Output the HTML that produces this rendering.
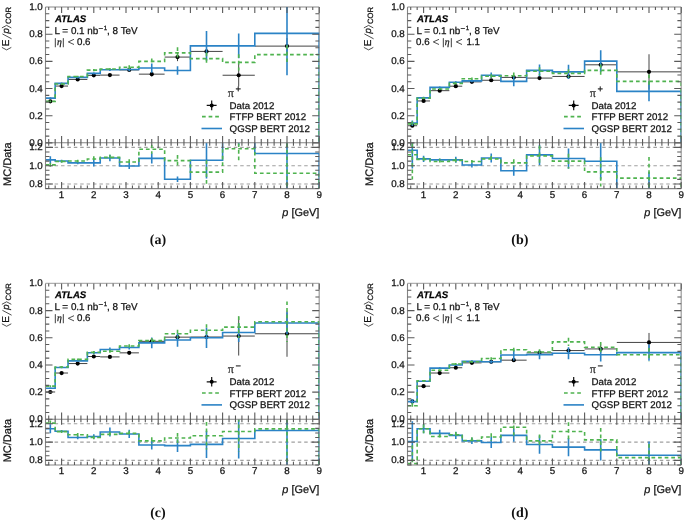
<!DOCTYPE html>
<html><head><meta charset="utf-8"><title>ATLAS E/p</title><style>
html,body{margin:0;padding:0;}
body{width:685px;height:520px;overflow:hidden;}
svg{display:block;will-change:transform;}
text{font-family:"Liberation Sans",sans-serif;fill:#111;stroke:#111;stroke-width:0.25px;text-rendering:geometricPrecision;}
.tl{font-size:9.8px;}
.lg{font-size:9.7px;}
.ti{font-size:10.9px;}
.mc{font-size:11px;}
.ep{font-size:9.6px;}
.at{font-size:9.6px;font-weight:bold;font-style:italic;fill:#000;}
.cap{font-family:"Liberation Serif",serif;font-weight:bold;font-size:14px;fill:#111;stroke:none;}
</style></head>
<body><svg width="685" height="520" viewBox="0 0 685 520">

<g transform="translate(0,0)">
<clipPath id="cta"><rect x="45.5" y="7" width="273.7" height="135.8"/></clipPath>
<clipPath id="cra"><rect x="45.5" y="142.8" width="273.7" height="45.8"/></clipPath>
<path d="M45.5,7 H319.2" fill="none" stroke="#b0b0b0" stroke-width="1.3"/>
<path d="M319.2,7 V188.6" fill="none" stroke="#9a9a9a" stroke-width="1.2"/>
<line x1="45.5" y1="184" x2="319.2" y2="184" stroke="#a0a0a0" stroke-width="1.1" stroke-dasharray="3.5,2.9" stroke-dashoffset="3.7"/>
<line x1="45.5" y1="165.7" x2="319.2" y2="165.7" stroke="#a0a0a0" stroke-width="1.1" stroke-dasharray="3.5,2.9" stroke-dashoffset="3.7"/>
<line x1="45.5" y1="147.4" x2="319.2" y2="147.4" stroke="#a0a0a0" stroke-width="1.1" stroke-dasharray="3.5,2.9" stroke-dashoffset="3.7"/>
<g clip-path="url(#cta)">
<line x1="45.5" y1="101.37" x2="55.16" y2="101.37" stroke="#444" stroke-width="1"/>
<line x1="50.33" y1="100.83" x2="50.33" y2="101.91" stroke="#444" stroke-width="1"/>
<line x1="55.16" y1="86.07" x2="68.04" y2="86.07" stroke="#444" stroke-width="1"/>
<line x1="61.6" y1="85.53" x2="61.6" y2="86.61" stroke="#444" stroke-width="1"/>
<line x1="68.04" y1="79.43" x2="87.36" y2="79.43" stroke="#444" stroke-width="1"/>
<line x1="77.7" y1="78.89" x2="77.7" y2="79.97" stroke="#444" stroke-width="1"/>
<line x1="87.36" y1="75.37" x2="100.24" y2="75.37" stroke="#444" stroke-width="1"/>
<line x1="93.8" y1="74.69" x2="93.8" y2="76.05" stroke="#444" stroke-width="1"/>
<line x1="100.24" y1="75.1" x2="119.56" y2="75.1" stroke="#444" stroke-width="1"/>
<line x1="109.9" y1="74.29" x2="109.9" y2="75.91" stroke="#444" stroke-width="1"/>
<line x1="119.56" y1="69.95" x2="138.88" y2="69.95" stroke="#444" stroke-width="1"/>
<line x1="129.22" y1="68.6" x2="129.22" y2="71.31" stroke="#444" stroke-width="1"/>
<line x1="138.88" y1="74.15" x2="164.64" y2="74.15" stroke="#444" stroke-width="1"/>
<line x1="151.76" y1="71.72" x2="151.76" y2="76.59" stroke="#444" stroke-width="1"/>
<line x1="164.64" y1="57.09" x2="190.4" y2="57.09" stroke="#444" stroke-width="1"/>
<line x1="177.52" y1="53.03" x2="177.52" y2="61.15" stroke="#444" stroke-width="1"/>
<line x1="190.4" y1="51.41" x2="222.6" y2="51.41" stroke="#444" stroke-width="1"/>
<line x1="206.5" y1="47.34" x2="206.5" y2="55.47" stroke="#444" stroke-width="1"/>
<line x1="222.6" y1="75.24" x2="254.8" y2="75.24" stroke="#444" stroke-width="1"/>
<line x1="238.7" y1="64" x2="238.7" y2="86.47" stroke="#444" stroke-width="1"/>
<line x1="254.8" y1="46.12" x2="319.2" y2="46.12" stroke="#444" stroke-width="1"/>
<line x1="287" y1="38" x2="287" y2="54.25" stroke="#444" stroke-width="1"/>
<circle cx="50.33" cy="101.37" r="2.1" fill="#000"/>
<circle cx="61.6" cy="86.07" r="2.1" fill="#000"/>
<circle cx="77.7" cy="79.43" r="2.1" fill="#000"/>
<circle cx="93.8" cy="75.37" r="2.1" fill="#000"/>
<circle cx="109.9" cy="75.1" r="2.1" fill="#000"/>
<circle cx="129.22" cy="69.95" r="2.1" fill="#000"/>
<circle cx="151.76" cy="74.15" r="2.1" fill="#000"/>
<circle cx="177.52" cy="57.09" r="2.1" fill="#000"/>
<circle cx="206.5" cy="51.41" r="2.1" fill="#000"/>
<circle cx="238.7" cy="75.24" r="2.1" fill="#000"/>
<circle cx="287" cy="46.12" r="2.1" fill="#000"/>
<path d="M45.5,98.12 L55.16,98.12 L55.16,83.36 L68.04,83.36 L68.04,77.4 L87.36,77.4 L87.36,73.34 L100.24,73.34 L100.24,69.82 L119.56,69.82 L119.56,69.55 L138.88,69.55 L138.88,68.06 L164.64,68.06 L164.64,70.5 L190.4,70.5 L190.4,45.85 L222.6,45.85 L222.6,45.85 L254.8,45.85 L254.8,33.4 L319.2,33.4 L319.2,142.8" fill="none" stroke="#2b83c6" stroke-width="1.6"/>
<line x1="50.33" y1="97.31" x2="50.33" y2="98.93" stroke="#2b83c6" stroke-width="1.6"/>
<line x1="61.6" y1="82.55" x2="61.6" y2="84.17" stroke="#2b83c6" stroke-width="1.6"/>
<line x1="77.7" y1="76.59" x2="77.7" y2="78.21" stroke="#2b83c6" stroke-width="1.6"/>
<line x1="93.8" y1="72.39" x2="93.8" y2="74.29" stroke="#2b83c6" stroke-width="1.6"/>
<line x1="109.9" y1="68.74" x2="109.9" y2="70.9" stroke="#2b83c6" stroke-width="1.6"/>
<line x1="129.22" y1="67.92" x2="129.22" y2="71.17" stroke="#2b83c6" stroke-width="1.6"/>
<line x1="151.76" y1="63.46" x2="151.76" y2="72.66" stroke="#2b83c6" stroke-width="1.6"/>
<line x1="177.52" y1="66.16" x2="177.52" y2="74.83" stroke="#2b83c6" stroke-width="1.6"/>
<line x1="206.5" y1="30.96" x2="206.5" y2="60.75" stroke="#2b83c6" stroke-width="1.6"/>
<line x1="238.7" y1="33.4" x2="238.7" y2="58.31" stroke="#2b83c6" stroke-width="1.6"/>
<line x1="287" y1="-8.58" x2="287" y2="75.37" stroke="#2b83c6" stroke-width="1.6"/>
<path d="M45.5,101.37 L55.16,101.37 L55.16,84.04 L68.04,84.04 L68.04,76.45 L87.36,76.45 L87.36,70.09 L100.24,70.09 L100.24,69.01 L119.56,69.01 L119.56,67.25 L138.88,67.25 L138.88,61.42 L164.64,61.42 L164.64,52.89 L190.4,52.89 L190.4,58.58 L222.6,58.58 L222.6,62.37 L254.8,62.37 L254.8,54.65 L319.2,54.65 L319.2,142.8" fill="none" stroke="#4fb34f" stroke-width="1.6" stroke-dasharray="3.7,2.9"/>
<line x1="50.33" y1="100.56" x2="50.33" y2="102.18" stroke="#4fb34f" stroke-width="1.6" stroke-dasharray="3.7,2.9"/>
<line x1="61.6" y1="83.22" x2="61.6" y2="84.85" stroke="#4fb34f" stroke-width="1.6" stroke-dasharray="3.7,2.9"/>
<line x1="77.7" y1="75.64" x2="77.7" y2="77.27" stroke="#4fb34f" stroke-width="1.6" stroke-dasharray="3.7,2.9"/>
<line x1="93.8" y1="69.01" x2="93.8" y2="71.17" stroke="#4fb34f" stroke-width="1.6" stroke-dasharray="3.7,2.9"/>
<line x1="109.9" y1="67.92" x2="109.9" y2="70.09" stroke="#4fb34f" stroke-width="1.6" stroke-dasharray="3.7,2.9"/>
<line x1="129.22" y1="65.22" x2="129.22" y2="69.28" stroke="#4fb34f" stroke-width="1.6" stroke-dasharray="3.7,2.9"/>
<line x1="151.76" y1="58.45" x2="151.76" y2="64.4" stroke="#4fb34f" stroke-width="1.6" stroke-dasharray="3.7,2.9"/>
<line x1="177.52" y1="47.21" x2="177.52" y2="58.58" stroke="#4fb34f" stroke-width="1.6" stroke-dasharray="3.7,2.9"/>
<line x1="206.5" y1="52.49" x2="206.5" y2="64.67" stroke="#4fb34f" stroke-width="1.6" stroke-dasharray="3.7,2.9"/>
<line x1="238.7" y1="54.25" x2="238.7" y2="70.5" stroke="#4fb34f" stroke-width="1.6" stroke-dasharray="3.7,2.9"/>
<line x1="287" y1="45.18" x2="287" y2="64.13" stroke="#4fb34f" stroke-width="1.6" stroke-dasharray="3.7,2.9"/>
</g>
<g clip-path="url(#cra)">
<path d="M45.5,159.84 L55.16,159.84 L55.16,161.03 L68.04,161.03 L68.04,162.86 L87.36,162.86 L87.36,162.86 L100.24,162.86 L100.24,158.01 L119.56,158.01 L119.56,165.97 L138.88,165.97 L138.88,158.38 L164.64,158.38 L164.64,179.24 L190.4,179.24 L190.4,160.3 L222.6,160.3 L222.6,140.8 L254.8,140.8 L254.8,153.53 L319.2,153.53 L319.2,190.6" fill="none" stroke="#2b83c6" stroke-width="1.6"/>
<line x1="50.33" y1="156.18" x2="50.33" y2="163.5" stroke="#2b83c6" stroke-width="1.6"/>
<line x1="61.6" y1="159.66" x2="61.6" y2="162.41" stroke="#2b83c6" stroke-width="1.6"/>
<line x1="77.7" y1="161.49" x2="77.7" y2="164.24" stroke="#2b83c6" stroke-width="1.6"/>
<line x1="93.8" y1="159.2" x2="93.8" y2="166.52" stroke="#2b83c6" stroke-width="1.6"/>
<line x1="109.9" y1="154.81" x2="109.9" y2="161.22" stroke="#2b83c6" stroke-width="1.6"/>
<line x1="129.22" y1="162.95" x2="129.22" y2="168.99" stroke="#2b83c6" stroke-width="1.6"/>
<line x1="151.76" y1="153.26" x2="151.76" y2="163.5" stroke="#2b83c6" stroke-width="1.6"/>
<line x1="177.52" y1="176.5" x2="177.52" y2="181.99" stroke="#2b83c6" stroke-width="1.6"/>
<line x1="206.5" y1="142" x2="206.5" y2="178.6" stroke="#2b83c6" stroke-width="1.6"/>
<line x1="238.7" y1="108.97" x2="238.7" y2="145.57" stroke="#2b83c6" stroke-width="1.6"/>
<line x1="287" y1="112.36" x2="287" y2="194.71" stroke="#2b83c6" stroke-width="1.6"/>
<path d="M45.5,164.88 L55.16,164.88 L55.16,161.49 L68.04,161.49 L68.04,161.03 L87.36,161.03 L87.36,159.02 L100.24,159.02 L100.24,157.37 L119.56,157.37 L119.56,162.04 L138.88,162.04 L138.88,149.23 L164.64,149.23 L164.64,160.58 L190.4,160.58 L190.4,172.1 L222.6,172.1 L222.6,148.68 L254.8,148.68 L254.8,173.2 L319.2,173.2 L319.2,190.6" fill="none" stroke="#4fb34f" stroke-width="1.6" stroke-dasharray="3.7,2.9"/>
<line x1="50.33" y1="163.05" x2="50.33" y2="166.71" stroke="#4fb34f" stroke-width="1.6" stroke-dasharray="3.7,2.9"/>
<line x1="61.6" y1="160.12" x2="61.6" y2="162.86" stroke="#4fb34f" stroke-width="1.6" stroke-dasharray="3.7,2.9"/>
<line x1="77.7" y1="159.66" x2="77.7" y2="162.41" stroke="#4fb34f" stroke-width="1.6" stroke-dasharray="3.7,2.9"/>
<line x1="93.8" y1="156.28" x2="93.8" y2="161.77" stroke="#4fb34f" stroke-width="1.6" stroke-dasharray="3.7,2.9"/>
<line x1="109.9" y1="154.63" x2="109.9" y2="160.12" stroke="#4fb34f" stroke-width="1.6" stroke-dasharray="3.7,2.9"/>
<line x1="129.22" y1="159.29" x2="129.22" y2="164.78" stroke="#4fb34f" stroke-width="1.6" stroke-dasharray="3.7,2.9"/>
<line x1="151.76" y1="144.66" x2="151.76" y2="153.81" stroke="#4fb34f" stroke-width="1.6" stroke-dasharray="3.7,2.9"/>
<line x1="177.52" y1="155.09" x2="177.52" y2="166.07" stroke="#4fb34f" stroke-width="1.6" stroke-dasharray="3.7,2.9"/>
<line x1="206.5" y1="160.21" x2="206.5" y2="184" stroke="#4fb34f" stroke-width="1.6" stroke-dasharray="3.7,2.9"/>
<line x1="238.7" y1="136.79" x2="238.7" y2="160.58" stroke="#4fb34f" stroke-width="1.6" stroke-dasharray="3.7,2.9"/>
<line x1="287" y1="136.6" x2="287" y2="209.8" stroke="#4fb34f" stroke-width="1.6" stroke-dasharray="3.7,2.9"/>
</g>
<path d="M45.5,7 V188.6 H319.2 M45.5,142.8 H319.2" fill="none" stroke="#858585" stroke-width="1.1"/>
<path d="M48.72,7 v3 M48.72,142.8 v-3.7 M48.72,142.8 v3 M48.72,188.6 v-3.2 M55.16,7 v3 M55.16,142.8 v-3.7 M55.16,142.8 v3 M55.16,188.6 v-3.2 M61.6,7 v6 M61.6,142.8 v-6.7 M61.6,142.8 v5.5 M61.6,188.6 v-6.6 M68.04,7 v3 M68.04,142.8 v-3.7 M68.04,142.8 v3 M68.04,188.6 v-3.2 M74.48,7 v3 M74.48,142.8 v-3.7 M74.48,142.8 v3 M74.48,188.6 v-3.2 M80.92,7 v3 M80.92,142.8 v-3.7 M80.92,142.8 v3 M80.92,188.6 v-3.2 M87.36,7 v3 M87.36,142.8 v-3.7 M87.36,142.8 v3 M87.36,188.6 v-3.2 M93.8,7 v6 M93.8,142.8 v-6.7 M93.8,142.8 v5.5 M93.8,188.6 v-6.6 M100.24,7 v3 M100.24,142.8 v-3.7 M100.24,142.8 v3 M100.24,188.6 v-3.2 M106.68,7 v3 M106.68,142.8 v-3.7 M106.68,142.8 v3 M106.68,188.6 v-3.2 M113.12,7 v3 M113.12,142.8 v-3.7 M113.12,142.8 v3 M113.12,188.6 v-3.2 M119.56,7 v3 M119.56,142.8 v-3.7 M119.56,142.8 v3 M119.56,188.6 v-3.2 M126,7 v6 M126,142.8 v-6.7 M126,142.8 v5.5 M126,188.6 v-6.6 M132.44,7 v3 M132.44,142.8 v-3.7 M132.44,142.8 v3 M132.44,188.6 v-3.2 M138.88,7 v3 M138.88,142.8 v-3.7 M138.88,142.8 v3 M138.88,188.6 v-3.2 M145.32,7 v3 M145.32,142.8 v-3.7 M145.32,142.8 v3 M145.32,188.6 v-3.2 M151.76,7 v3 M151.76,142.8 v-3.7 M151.76,142.8 v3 M151.76,188.6 v-3.2 M158.2,7 v6 M158.2,142.8 v-6.7 M158.2,142.8 v5.5 M158.2,188.6 v-6.6 M164.64,7 v3 M164.64,142.8 v-3.7 M164.64,142.8 v3 M164.64,188.6 v-3.2 M171.08,7 v3 M171.08,142.8 v-3.7 M171.08,142.8 v3 M171.08,188.6 v-3.2 M177.52,7 v3 M177.52,142.8 v-3.7 M177.52,142.8 v3 M177.52,188.6 v-3.2 M183.96,7 v3 M183.96,142.8 v-3.7 M183.96,142.8 v3 M183.96,188.6 v-3.2 M190.4,7 v6 M190.4,142.8 v-6.7 M190.4,142.8 v5.5 M190.4,188.6 v-6.6 M196.84,7 v3 M196.84,142.8 v-3.7 M196.84,142.8 v3 M196.84,188.6 v-3.2 M203.28,7 v3 M203.28,142.8 v-3.7 M203.28,142.8 v3 M203.28,188.6 v-3.2 M209.72,7 v3 M209.72,142.8 v-3.7 M209.72,142.8 v3 M209.72,188.6 v-3.2 M216.16,7 v3 M216.16,142.8 v-3.7 M216.16,142.8 v3 M216.16,188.6 v-3.2 M222.6,7 v6 M222.6,142.8 v-6.7 M222.6,142.8 v5.5 M222.6,188.6 v-6.6 M229.04,7 v3 M229.04,142.8 v-3.7 M229.04,142.8 v3 M229.04,188.6 v-3.2 M235.48,7 v3 M235.48,142.8 v-3.7 M235.48,142.8 v3 M235.48,188.6 v-3.2 M241.92,7 v3 M241.92,142.8 v-3.7 M241.92,142.8 v3 M241.92,188.6 v-3.2 M248.36,7 v3 M248.36,142.8 v-3.7 M248.36,142.8 v3 M248.36,188.6 v-3.2 M254.8,7 v6 M254.8,142.8 v-6.7 M254.8,142.8 v5.5 M254.8,188.6 v-6.6 M261.24,7 v3 M261.24,142.8 v-3.7 M261.24,142.8 v3 M261.24,188.6 v-3.2 M267.68,7 v3 M267.68,142.8 v-3.7 M267.68,142.8 v3 M267.68,188.6 v-3.2 M274.12,7 v3 M274.12,142.8 v-3.7 M274.12,142.8 v3 M274.12,188.6 v-3.2 M280.56,7 v3 M280.56,142.8 v-3.7 M280.56,142.8 v3 M280.56,188.6 v-3.2 M287,7 v6 M287,142.8 v-6.7 M287,142.8 v5.5 M287,188.6 v-6.6 M293.44,7 v3 M293.44,142.8 v-3.7 M293.44,142.8 v3 M293.44,188.6 v-3.2 M299.88,7 v3 M299.88,142.8 v-3.7 M299.88,142.8 v3 M299.88,188.6 v-3.2 M306.32,7 v3 M306.32,142.8 v-3.7 M306.32,142.8 v3 M306.32,188.6 v-3.2 M312.76,7 v3 M312.76,142.8 v-3.7 M312.76,142.8 v3 M312.76,188.6 v-3.2 M319.2,7 v6 M319.2,142.8 v-6.7 M319.2,142.8 v5.5 M319.2,188.6 v-6.6 M45.5,142.9 h7 M319.2,142.9 h-7 M45.5,136.11 h3.8 M319.2,136.11 h-3.8 M45.5,129.31 h3.8 M319.2,129.31 h-3.8 M45.5,122.52 h3.8 M319.2,122.52 h-3.8 M45.5,115.72 h7 M319.2,115.72 h-7 M45.5,108.93 h3.8 M319.2,108.93 h-3.8 M45.5,102.13 h3.8 M319.2,102.13 h-3.8 M45.5,95.34 h3.8 M319.2,95.34 h-3.8 M45.5,88.54 h7 M319.2,88.54 h-7 M45.5,81.75 h3.8 M319.2,81.75 h-3.8 M45.5,74.95 h3.8 M319.2,74.95 h-3.8 M45.5,68.16 h3.8 M319.2,68.16 h-3.8 M45.5,61.36 h7 M319.2,61.36 h-7 M45.5,54.56 h3.8 M319.2,54.56 h-3.8 M45.5,47.77 h3.8 M319.2,47.77 h-3.8 M45.5,40.97 h3.8 M319.2,40.97 h-3.8 M45.5,34.18 h7 M319.2,34.18 h-7 M45.5,27.38 h3.8 M319.2,27.38 h-3.8 M45.5,20.59 h3.8 M319.2,20.59 h-3.8 M45.5,13.79 h3.8 M319.2,13.79 h-3.8 M45.5,188.57 h4 M319.2,188.57 h-4 M45.5,184 h7.5 M319.2,184 h-7.5 M45.5,179.42 h4 M319.2,179.42 h-4 M45.5,174.85 h4 M319.2,174.85 h-4 M45.5,170.28 h4 M319.2,170.28 h-4 M45.5,165.7 h7.5 M319.2,165.7 h-7.5 M45.5,161.12 h4 M319.2,161.12 h-4 M45.5,156.55 h4 M319.2,156.55 h-4 M45.5,151.97 h4 M319.2,151.97 h-4 M45.5,147.4 h7.5 M319.2,147.4 h-7.5 M45.5,142.82 h4 M319.2,142.82 h-4" fill="none" stroke="#5a5a5a" stroke-width="1.1"/>
<text class="tl" x="42.8" y="145.9" text-anchor="end">0.0</text>
<text class="tl" x="42.8" y="118.72" text-anchor="end">0.2</text>
<text class="tl" x="42.8" y="91.54" text-anchor="end">0.4</text>
<text class="tl" x="42.8" y="64.36" text-anchor="end">0.6</text>
<text class="tl" x="42.8" y="37.18" text-anchor="end">0.8</text>
<text class="tl" x="42.8" y="10" text-anchor="end">1.0</text>
<text class="tl" x="42.8" y="186.9" text-anchor="end">0.8</text>
<text class="tl" x="42.8" y="168.6" text-anchor="end">1.0</text>
<text class="tl" x="42.8" y="150.3" text-anchor="end">1.2</text>
<text class="tl" x="61.6" y="197.9" text-anchor="middle">1</text>
<text class="tl" x="93.8" y="197.9" text-anchor="middle">2</text>
<text class="tl" x="126" y="197.9" text-anchor="middle">3</text>
<text class="tl" x="158.2" y="197.9" text-anchor="middle">4</text>
<text class="tl" x="190.4" y="197.9" text-anchor="middle">5</text>
<text class="tl" x="222.6" y="197.9" text-anchor="middle">6</text>
<text class="tl" x="254.8" y="197.9" text-anchor="middle">7</text>
<text class="tl" x="287" y="197.9" text-anchor="middle">8</text>
<text class="tl" x="319.2" y="197.9" text-anchor="middle">9</text>
<text class="ti" x="319.3" y="216.2" text-anchor="end"><tspan font-style="italic">p</tspan> [GeV]</text>
<text class="mc" transform="translate(11.4,185.9) rotate(-90)">MC/Data</text>
<path d="M1.9,47.4 L6.6,49.9 L11.3,47.4 M1.9,27.9 L6.6,25.4 L11.3,27.9 M11.6,38.8 L2.4,33.9" fill="none" stroke="#222" stroke-width="0.8"/>
<text class="ep" style="font-size:10px" transform="translate(8.6,46.3) rotate(-90)">E</text>
<text class="ep" font-style="italic" transform="translate(8.5,33.4) rotate(-90)">p</text>
<text class="ep" style="font-size:7.7px" transform="translate(11.0,24.0) rotate(-90)">COR</text>
<text class="at" x="55" y="21.8">ATLAS</text>
<text class="lg" y="33.5" style="font-size:9.9px"><tspan x="54.5">L = 0.1 nb</tspan><tspan x="98.6" y="30.95" font-size="8">−</tspan><tspan x="103.7" y="29.8" font-size="6.2">1</tspan><tspan x="107.1" y="33.5">, 8 TeV</tspan></text>
<text class="lg" y="44.6"><tspan x="54.33" font-family="Liberation Serif">|</tspan><tspan x="56.9" font-family="Liberation Serif" font-style="italic">η</tspan><tspan x="62.23" font-family="Liberation Serif">|</tspan><tspan x="77.0">0.6</tspan></text>
<path d="M74,39.3 L68.3,41.9 L74,44.5" fill="none" stroke="#222" stroke-width="0.8"/>
<text class="lg" y="96.9"><tspan x="227.8" font-family="Liberation Serif" font-size="12.2" stroke-width="0.12">π</tspan><tspan x="235.6" y="92.2" font-size="9.4">+</tspan></text>
<path d="M206.7,105.4 H216.6 M211.7,100.6 V110.2" stroke="#111" stroke-width="1.2"/>
<circle cx="211.7" cy="105.4" r="2" fill="#000"/>
<line x1="202" y1="116.6" x2="221.5" y2="116.6" stroke="#4fb34f" stroke-width="1.6" stroke-dasharray="3.7,2.9"/>
<line x1="201.5" y1="128.5" x2="222" y2="128.5" stroke="#2b83c6" stroke-width="1.6"/>
<text class="lg" x="229.6" y="108.7">Data 2012</text>
<text class="lg" x="229.6" y="120.3">FTFP BERT 2012</text>
<text class="lg" x="229.6" y="131.9">QGSP BERT 2012</text>
<text class="cap" x="157.9" y="243.9" text-anchor="middle">(a)</text>
</g>
<g transform="translate(362,0)">
<clipPath id="ctb"><rect x="45.5" y="7" width="273.7" height="135.8"/></clipPath>
<clipPath id="crb"><rect x="45.5" y="142.8" width="273.7" height="45.8"/></clipPath>
<path d="M45.5,7 H319.2" fill="none" stroke="#b0b0b0" stroke-width="1.3"/>
<path d="M319.2,7 V188.6" fill="none" stroke="#9a9a9a" stroke-width="1.2"/>
<line x1="45.5" y1="184" x2="319.2" y2="184" stroke="#a0a0a0" stroke-width="1.1" stroke-dasharray="3.5,2.9" stroke-dashoffset="3.7"/>
<line x1="45.5" y1="165.7" x2="319.2" y2="165.7" stroke="#a0a0a0" stroke-width="1.1" stroke-dasharray="3.5,2.9" stroke-dashoffset="3.7"/>
<line x1="45.5" y1="147.4" x2="319.2" y2="147.4" stroke="#a0a0a0" stroke-width="1.1" stroke-dasharray="3.5,2.9" stroke-dashoffset="3.7"/>
<g clip-path="url(#ctb)">
<line x1="45.5" y1="125.74" x2="55.16" y2="125.74" stroke="#444" stroke-width="1"/>
<line x1="50.33" y1="125.2" x2="50.33" y2="126.28" stroke="#444" stroke-width="1"/>
<line x1="55.16" y1="100.96" x2="68.04" y2="100.96" stroke="#444" stroke-width="1"/>
<line x1="61.6" y1="100.42" x2="61.6" y2="101.5" stroke="#444" stroke-width="1"/>
<line x1="68.04" y1="90.67" x2="87.36" y2="90.67" stroke="#444" stroke-width="1"/>
<line x1="77.7" y1="90.13" x2="77.7" y2="91.21" stroke="#444" stroke-width="1"/>
<line x1="87.36" y1="86.2" x2="100.24" y2="86.2" stroke="#444" stroke-width="1"/>
<line x1="93.8" y1="85.53" x2="93.8" y2="86.88" stroke="#444" stroke-width="1"/>
<line x1="100.24" y1="81.87" x2="119.56" y2="81.87" stroke="#444" stroke-width="1"/>
<line x1="109.9" y1="81.06" x2="109.9" y2="82.68" stroke="#444" stroke-width="1"/>
<line x1="119.56" y1="80.25" x2="138.88" y2="80.25" stroke="#444" stroke-width="1"/>
<line x1="129.22" y1="79.16" x2="129.22" y2="81.33" stroke="#444" stroke-width="1"/>
<line x1="138.88" y1="77.4" x2="164.64" y2="77.4" stroke="#444" stroke-width="1"/>
<line x1="151.76" y1="76.05" x2="151.76" y2="78.76" stroke="#444" stroke-width="1"/>
<line x1="164.64" y1="78.08" x2="190.4" y2="78.08" stroke="#444" stroke-width="1"/>
<line x1="177.52" y1="76.45" x2="177.52" y2="79.7" stroke="#444" stroke-width="1"/>
<line x1="190.4" y1="76.45" x2="222.6" y2="76.45" stroke="#444" stroke-width="1"/>
<line x1="206.5" y1="74.42" x2="206.5" y2="78.49" stroke="#444" stroke-width="1"/>
<line x1="222.6" y1="64.81" x2="254.8" y2="64.81" stroke="#444" stroke-width="1"/>
<line x1="238.7" y1="60.75" x2="238.7" y2="68.87" stroke="#444" stroke-width="1"/>
<line x1="254.8" y1="71.85" x2="319.2" y2="71.85" stroke="#444" stroke-width="1"/>
<line x1="287" y1="54.25" x2="287" y2="89.45" stroke="#444" stroke-width="1"/>
<circle cx="50.33" cy="125.74" r="2.1" fill="#000"/>
<circle cx="61.6" cy="100.96" r="2.1" fill="#000"/>
<circle cx="77.7" cy="90.67" r="2.1" fill="#000"/>
<circle cx="93.8" cy="86.2" r="2.1" fill="#000"/>
<circle cx="109.9" cy="81.87" r="2.1" fill="#000"/>
<circle cx="129.22" cy="80.25" r="2.1" fill="#000"/>
<circle cx="151.76" cy="77.4" r="2.1" fill="#000"/>
<circle cx="177.52" cy="78.08" r="2.1" fill="#000"/>
<circle cx="206.5" cy="76.45" r="2.1" fill="#000"/>
<circle cx="238.7" cy="64.81" r="2.1" fill="#000"/>
<circle cx="287" cy="71.85" r="2.1" fill="#000"/>
<path d="M45.5,123.17 L55.16,123.17 L55.16,97.85 L68.04,97.85 L68.04,87.42 L87.36,87.42 L87.36,82.28 L100.24,82.28 L100.24,80.92 L119.56,80.92 L119.56,75.24 L138.88,75.24 L138.88,81.33 L164.64,81.33 L164.64,70.36 L190.4,70.36 L190.4,71.85 L222.6,71.85 L222.6,61.15 L254.8,61.15 L254.8,91.35 L319.2,91.35 L319.2,142.8" fill="none" stroke="#2b83c6" stroke-width="1.6"/>
<line x1="50.33" y1="120.46" x2="50.33" y2="125.88" stroke="#2b83c6" stroke-width="1.6"/>
<line x1="61.6" y1="96.76" x2="61.6" y2="98.93" stroke="#2b83c6" stroke-width="1.6"/>
<line x1="77.7" y1="86.61" x2="77.7" y2="88.23" stroke="#2b83c6" stroke-width="1.6"/>
<line x1="93.8" y1="81.33" x2="93.8" y2="83.22" stroke="#2b83c6" stroke-width="1.6"/>
<line x1="109.9" y1="79.57" x2="109.9" y2="82.28" stroke="#2b83c6" stroke-width="1.6"/>
<line x1="129.22" y1="72.53" x2="129.22" y2="77.94" stroke="#2b83c6" stroke-width="1.6"/>
<line x1="151.76" y1="76.32" x2="151.76" y2="86.34" stroke="#2b83c6" stroke-width="1.6"/>
<line x1="177.52" y1="64.4" x2="177.52" y2="76.32" stroke="#2b83c6" stroke-width="1.6"/>
<line x1="206.5" y1="64.67" x2="206.5" y2="79.03" stroke="#2b83c6" stroke-width="1.6"/>
<line x1="238.7" y1="50.32" x2="238.7" y2="71.99" stroke="#2b83c6" stroke-width="1.6"/>
<line x1="287" y1="81.33" x2="287" y2="101.37" stroke="#2b83c6" stroke-width="1.6"/>
<path d="M45.5,123.84 L55.16,123.84 L55.16,98.25 L68.04,98.25 L68.04,89.05 L87.36,89.05 L87.36,83.36 L100.24,83.36 L100.24,78.76 L119.56,78.76 L119.56,76.18 L138.88,76.18 L138.88,75.78 L164.64,75.78 L164.64,71.31 L190.4,71.31 L190.4,73.34 L222.6,73.34 L222.6,70.36 L254.8,70.36 L254.8,81.33 L319.2,81.33 L319.2,142.8" fill="none" stroke="#4fb34f" stroke-width="1.6" stroke-dasharray="3.7,2.9"/>
<line x1="50.33" y1="121.14" x2="50.33" y2="126.55" stroke="#4fb34f" stroke-width="1.6" stroke-dasharray="3.7,2.9"/>
<line x1="61.6" y1="97.17" x2="61.6" y2="99.34" stroke="#4fb34f" stroke-width="1.6" stroke-dasharray="3.7,2.9"/>
<line x1="77.7" y1="88.23" x2="77.7" y2="89.86" stroke="#4fb34f" stroke-width="1.6" stroke-dasharray="3.7,2.9"/>
<line x1="93.8" y1="82.41" x2="93.8" y2="84.31" stroke="#4fb34f" stroke-width="1.6" stroke-dasharray="3.7,2.9"/>
<line x1="109.9" y1="77.4" x2="109.9" y2="80.11" stroke="#4fb34f" stroke-width="1.6" stroke-dasharray="3.7,2.9"/>
<line x1="129.22" y1="74.15" x2="129.22" y2="78.21" stroke="#4fb34f" stroke-width="1.6" stroke-dasharray="3.7,2.9"/>
<line x1="151.76" y1="72.39" x2="151.76" y2="79.16" stroke="#4fb34f" stroke-width="1.6" stroke-dasharray="3.7,2.9"/>
<line x1="177.52" y1="67.25" x2="177.52" y2="75.37" stroke="#4fb34f" stroke-width="1.6" stroke-dasharray="3.7,2.9"/>
<line x1="206.5" y1="69.28" x2="206.5" y2="77.4" stroke="#4fb34f" stroke-width="1.6" stroke-dasharray="3.7,2.9"/>
<line x1="238.7" y1="64.54" x2="238.7" y2="76.18" stroke="#4fb34f" stroke-width="1.6" stroke-dasharray="3.7,2.9"/>
<line x1="287" y1="74.56" x2="287" y2="88.1" stroke="#4fb34f" stroke-width="1.6" stroke-dasharray="3.7,2.9"/>
</g>
<g clip-path="url(#crb)">
<path d="M45.5,150.24 L55.16,150.24 L55.16,158.84 L68.04,158.84 L68.04,159.84 L87.36,159.84 L87.36,159.84 L100.24,159.84 L100.24,165.06 L119.56,165.06 L119.56,158.01 L138.88,158.01 L138.88,170.73 L164.64,170.73 L164.64,154.9 L190.4,154.9 L190.4,158.56 L222.6,158.56 L222.6,161.22 L254.8,161.22 L254.8,190.6 L319.2,190.6 L319.2,190.6" fill="none" stroke="#2b83c6" stroke-width="1.6"/>
<line x1="50.33" y1="131.94" x2="50.33" y2="168.54" stroke="#2b83c6" stroke-width="1.6"/>
<line x1="61.6" y1="155.63" x2="61.6" y2="162.04" stroke="#2b83c6" stroke-width="1.6"/>
<line x1="77.7" y1="158.47" x2="77.7" y2="161.22" stroke="#2b83c6" stroke-width="1.6"/>
<line x1="93.8" y1="156.82" x2="93.8" y2="162.86" stroke="#2b83c6" stroke-width="1.6"/>
<line x1="109.9" y1="162.5" x2="109.9" y2="167.62" stroke="#2b83c6" stroke-width="1.6"/>
<line x1="129.22" y1="153.44" x2="129.22" y2="162.59" stroke="#2b83c6" stroke-width="1.6"/>
<line x1="151.76" y1="165.61" x2="151.76" y2="175.86" stroke="#2b83c6" stroke-width="1.6"/>
<line x1="177.52" y1="144.84" x2="177.52" y2="164.97" stroke="#2b83c6" stroke-width="1.6"/>
<line x1="206.5" y1="148.5" x2="206.5" y2="168.63" stroke="#2b83c6" stroke-width="1.6"/>
<line x1="238.7" y1="142.92" x2="238.7" y2="179.52" stroke="#2b83c6" stroke-width="1.6"/>
<line x1="287" y1="172.1" x2="287" y2="210.53" stroke="#2b83c6" stroke-width="1.6"/>
<path d="M45.5,154.72 L55.16,154.72 L55.16,159.39 L68.04,159.39 L68.04,161.49 L87.36,161.49 L87.36,160.39 L100.24,160.39 L100.24,161.49 L119.56,161.49 L119.56,158.84 L138.88,158.84 L138.88,162.86 L164.64,162.86 L164.64,155.91 L190.4,155.91 L190.4,161.12 L222.6,161.12 L222.6,171.83 L254.8,171.83 L254.8,178.14 L319.2,178.14 L319.2,190.6" fill="none" stroke="#4fb34f" stroke-width="1.6" stroke-dasharray="3.7,2.9"/>
<line x1="50.33" y1="130.01" x2="50.33" y2="179.42" stroke="#4fb34f" stroke-width="1.6" stroke-dasharray="3.7,2.9"/>
<line x1="61.6" y1="157.1" x2="61.6" y2="161.67" stroke="#4fb34f" stroke-width="1.6" stroke-dasharray="3.7,2.9"/>
<line x1="77.7" y1="158.75" x2="77.7" y2="164.24" stroke="#4fb34f" stroke-width="1.6" stroke-dasharray="3.7,2.9"/>
<line x1="93.8" y1="158.56" x2="93.8" y2="162.22" stroke="#4fb34f" stroke-width="1.6" stroke-dasharray="3.7,2.9"/>
<line x1="109.9" y1="160.12" x2="109.9" y2="162.86" stroke="#4fb34f" stroke-width="1.6" stroke-dasharray="3.7,2.9"/>
<line x1="129.22" y1="156.09" x2="129.22" y2="161.58" stroke="#4fb34f" stroke-width="1.6" stroke-dasharray="3.7,2.9"/>
<line x1="151.76" y1="159.2" x2="151.76" y2="166.52" stroke="#4fb34f" stroke-width="1.6" stroke-dasharray="3.7,2.9"/>
<line x1="177.52" y1="145.84" x2="177.52" y2="165.97" stroke="#4fb34f" stroke-width="1.6" stroke-dasharray="3.7,2.9"/>
<line x1="206.5" y1="153.8" x2="206.5" y2="168.44" stroke="#4fb34f" stroke-width="1.6" stroke-dasharray="3.7,2.9"/>
<line x1="238.7" y1="157.19" x2="238.7" y2="186.47" stroke="#4fb34f" stroke-width="1.6" stroke-dasharray="3.7,2.9"/>
<line x1="287" y1="157.1" x2="287" y2="199.19" stroke="#4fb34f" stroke-width="1.6" stroke-dasharray="3.7,2.9"/>
</g>
<path d="M45.5,7 V188.6 H319.2 M45.5,142.8 H319.2" fill="none" stroke="#858585" stroke-width="1.1"/>
<path d="M48.72,7 v3 M48.72,142.8 v-3.7 M48.72,142.8 v3 M48.72,188.6 v-3.2 M55.16,7 v3 M55.16,142.8 v-3.7 M55.16,142.8 v3 M55.16,188.6 v-3.2 M61.6,7 v6 M61.6,142.8 v-6.7 M61.6,142.8 v5.5 M61.6,188.6 v-6.6 M68.04,7 v3 M68.04,142.8 v-3.7 M68.04,142.8 v3 M68.04,188.6 v-3.2 M74.48,7 v3 M74.48,142.8 v-3.7 M74.48,142.8 v3 M74.48,188.6 v-3.2 M80.92,7 v3 M80.92,142.8 v-3.7 M80.92,142.8 v3 M80.92,188.6 v-3.2 M87.36,7 v3 M87.36,142.8 v-3.7 M87.36,142.8 v3 M87.36,188.6 v-3.2 M93.8,7 v6 M93.8,142.8 v-6.7 M93.8,142.8 v5.5 M93.8,188.6 v-6.6 M100.24,7 v3 M100.24,142.8 v-3.7 M100.24,142.8 v3 M100.24,188.6 v-3.2 M106.68,7 v3 M106.68,142.8 v-3.7 M106.68,142.8 v3 M106.68,188.6 v-3.2 M113.12,7 v3 M113.12,142.8 v-3.7 M113.12,142.8 v3 M113.12,188.6 v-3.2 M119.56,7 v3 M119.56,142.8 v-3.7 M119.56,142.8 v3 M119.56,188.6 v-3.2 M126,7 v6 M126,142.8 v-6.7 M126,142.8 v5.5 M126,188.6 v-6.6 M132.44,7 v3 M132.44,142.8 v-3.7 M132.44,142.8 v3 M132.44,188.6 v-3.2 M138.88,7 v3 M138.88,142.8 v-3.7 M138.88,142.8 v3 M138.88,188.6 v-3.2 M145.32,7 v3 M145.32,142.8 v-3.7 M145.32,142.8 v3 M145.32,188.6 v-3.2 M151.76,7 v3 M151.76,142.8 v-3.7 M151.76,142.8 v3 M151.76,188.6 v-3.2 M158.2,7 v6 M158.2,142.8 v-6.7 M158.2,142.8 v5.5 M158.2,188.6 v-6.6 M164.64,7 v3 M164.64,142.8 v-3.7 M164.64,142.8 v3 M164.64,188.6 v-3.2 M171.08,7 v3 M171.08,142.8 v-3.7 M171.08,142.8 v3 M171.08,188.6 v-3.2 M177.52,7 v3 M177.52,142.8 v-3.7 M177.52,142.8 v3 M177.52,188.6 v-3.2 M183.96,7 v3 M183.96,142.8 v-3.7 M183.96,142.8 v3 M183.96,188.6 v-3.2 M190.4,7 v6 M190.4,142.8 v-6.7 M190.4,142.8 v5.5 M190.4,188.6 v-6.6 M196.84,7 v3 M196.84,142.8 v-3.7 M196.84,142.8 v3 M196.84,188.6 v-3.2 M203.28,7 v3 M203.28,142.8 v-3.7 M203.28,142.8 v3 M203.28,188.6 v-3.2 M209.72,7 v3 M209.72,142.8 v-3.7 M209.72,142.8 v3 M209.72,188.6 v-3.2 M216.16,7 v3 M216.16,142.8 v-3.7 M216.16,142.8 v3 M216.16,188.6 v-3.2 M222.6,7 v6 M222.6,142.8 v-6.7 M222.6,142.8 v5.5 M222.6,188.6 v-6.6 M229.04,7 v3 M229.04,142.8 v-3.7 M229.04,142.8 v3 M229.04,188.6 v-3.2 M235.48,7 v3 M235.48,142.8 v-3.7 M235.48,142.8 v3 M235.48,188.6 v-3.2 M241.92,7 v3 M241.92,142.8 v-3.7 M241.92,142.8 v3 M241.92,188.6 v-3.2 M248.36,7 v3 M248.36,142.8 v-3.7 M248.36,142.8 v3 M248.36,188.6 v-3.2 M254.8,7 v6 M254.8,142.8 v-6.7 M254.8,142.8 v5.5 M254.8,188.6 v-6.6 M261.24,7 v3 M261.24,142.8 v-3.7 M261.24,142.8 v3 M261.24,188.6 v-3.2 M267.68,7 v3 M267.68,142.8 v-3.7 M267.68,142.8 v3 M267.68,188.6 v-3.2 M274.12,7 v3 M274.12,142.8 v-3.7 M274.12,142.8 v3 M274.12,188.6 v-3.2 M280.56,7 v3 M280.56,142.8 v-3.7 M280.56,142.8 v3 M280.56,188.6 v-3.2 M287,7 v6 M287,142.8 v-6.7 M287,142.8 v5.5 M287,188.6 v-6.6 M293.44,7 v3 M293.44,142.8 v-3.7 M293.44,142.8 v3 M293.44,188.6 v-3.2 M299.88,7 v3 M299.88,142.8 v-3.7 M299.88,142.8 v3 M299.88,188.6 v-3.2 M306.32,7 v3 M306.32,142.8 v-3.7 M306.32,142.8 v3 M306.32,188.6 v-3.2 M312.76,7 v3 M312.76,142.8 v-3.7 M312.76,142.8 v3 M312.76,188.6 v-3.2 M319.2,7 v6 M319.2,142.8 v-6.7 M319.2,142.8 v5.5 M319.2,188.6 v-6.6 M45.5,142.9 h7 M319.2,142.9 h-7 M45.5,136.11 h3.8 M319.2,136.11 h-3.8 M45.5,129.31 h3.8 M319.2,129.31 h-3.8 M45.5,122.52 h3.8 M319.2,122.52 h-3.8 M45.5,115.72 h7 M319.2,115.72 h-7 M45.5,108.93 h3.8 M319.2,108.93 h-3.8 M45.5,102.13 h3.8 M319.2,102.13 h-3.8 M45.5,95.34 h3.8 M319.2,95.34 h-3.8 M45.5,88.54 h7 M319.2,88.54 h-7 M45.5,81.75 h3.8 M319.2,81.75 h-3.8 M45.5,74.95 h3.8 M319.2,74.95 h-3.8 M45.5,68.16 h3.8 M319.2,68.16 h-3.8 M45.5,61.36 h7 M319.2,61.36 h-7 M45.5,54.56 h3.8 M319.2,54.56 h-3.8 M45.5,47.77 h3.8 M319.2,47.77 h-3.8 M45.5,40.97 h3.8 M319.2,40.97 h-3.8 M45.5,34.18 h7 M319.2,34.18 h-7 M45.5,27.38 h3.8 M319.2,27.38 h-3.8 M45.5,20.59 h3.8 M319.2,20.59 h-3.8 M45.5,13.79 h3.8 M319.2,13.79 h-3.8 M45.5,188.57 h4 M319.2,188.57 h-4 M45.5,184 h7.5 M319.2,184 h-7.5 M45.5,179.42 h4 M319.2,179.42 h-4 M45.5,174.85 h4 M319.2,174.85 h-4 M45.5,170.28 h4 M319.2,170.28 h-4 M45.5,165.7 h7.5 M319.2,165.7 h-7.5 M45.5,161.12 h4 M319.2,161.12 h-4 M45.5,156.55 h4 M319.2,156.55 h-4 M45.5,151.97 h4 M319.2,151.97 h-4 M45.5,147.4 h7.5 M319.2,147.4 h-7.5 M45.5,142.82 h4 M319.2,142.82 h-4" fill="none" stroke="#5a5a5a" stroke-width="1.1"/>
<text class="tl" x="42.8" y="145.9" text-anchor="end">0.0</text>
<text class="tl" x="42.8" y="118.72" text-anchor="end">0.2</text>
<text class="tl" x="42.8" y="91.54" text-anchor="end">0.4</text>
<text class="tl" x="42.8" y="64.36" text-anchor="end">0.6</text>
<text class="tl" x="42.8" y="37.18" text-anchor="end">0.8</text>
<text class="tl" x="42.8" y="10" text-anchor="end">1.0</text>
<text class="tl" x="42.8" y="186.9" text-anchor="end">0.8</text>
<text class="tl" x="42.8" y="168.6" text-anchor="end">1.0</text>
<text class="tl" x="42.8" y="150.3" text-anchor="end">1.2</text>
<text class="tl" x="61.6" y="197.9" text-anchor="middle">1</text>
<text class="tl" x="93.8" y="197.9" text-anchor="middle">2</text>
<text class="tl" x="126" y="197.9" text-anchor="middle">3</text>
<text class="tl" x="158.2" y="197.9" text-anchor="middle">4</text>
<text class="tl" x="190.4" y="197.9" text-anchor="middle">5</text>
<text class="tl" x="222.6" y="197.9" text-anchor="middle">6</text>
<text class="tl" x="254.8" y="197.9" text-anchor="middle">7</text>
<text class="tl" x="287" y="197.9" text-anchor="middle">8</text>
<text class="tl" x="319.2" y="197.9" text-anchor="middle">9</text>
<text class="ti" x="319.3" y="216.2" text-anchor="end"><tspan font-style="italic">p</tspan> [GeV]</text>
<text class="mc" transform="translate(11.4,185.9) rotate(-90)">MC/Data</text>
<path d="M1.9,47.4 L6.6,49.9 L11.3,47.4 M1.9,27.9 L6.6,25.4 L11.3,27.9 M11.6,38.8 L2.4,33.9" fill="none" stroke="#222" stroke-width="0.8"/>
<text class="ep" style="font-size:10px" transform="translate(8.6,46.3) rotate(-90)">E</text>
<text class="ep" font-style="italic" transform="translate(8.5,33.4) rotate(-90)">p</text>
<text class="ep" style="font-size:7.7px" transform="translate(11.0,24.0) rotate(-90)">COR</text>
<text class="at" x="55" y="21.8">ATLAS</text>
<text class="lg" y="33.5" style="font-size:9.9px"><tspan x="54.5">L = 0.1 nb</tspan><tspan x="98.6" y="30.95" font-size="8">−</tspan><tspan x="103.7" y="29.8" font-size="6.2">1</tspan><tspan x="107.1" y="33.5">, 8 TeV</tspan></text>
<text class="lg" y="44.6"><tspan x="54.1">0.6</tspan><tspan x="80.23" font-family="Liberation Serif">|</tspan><tspan x="82.8" font-family="Liberation Serif" font-style="italic">η</tspan><tspan x="88.33" font-family="Liberation Serif">|</tspan><tspan x="104.46">1.1</tspan></text>
<path d="M77,39.3 L71.3,41.9 L77,44.5 M100,39.3 L94.3,41.9 L100,44.5" fill="none" stroke="#222" stroke-width="0.8"/>
<text class="lg" y="96.9"><tspan x="227.8" font-family="Liberation Serif" font-size="12.2" stroke-width="0.12">π</tspan><tspan x="235.6" y="92.2" font-size="9.4">+</tspan></text>
<path d="M206.7,105.4 H216.6 M211.7,100.6 V110.2" stroke="#111" stroke-width="1.2"/>
<circle cx="211.7" cy="105.4" r="2" fill="#000"/>
<line x1="202" y1="116.6" x2="221.5" y2="116.6" stroke="#4fb34f" stroke-width="1.6" stroke-dasharray="3.7,2.9"/>
<line x1="201.5" y1="128.5" x2="222" y2="128.5" stroke="#2b83c6" stroke-width="1.6"/>
<text class="lg" x="229.6" y="108.7">Data 2012</text>
<text class="lg" x="229.6" y="120.3">FTFP BERT 2012</text>
<text class="lg" x="229.6" y="131.9">QGSP BERT 2012</text>
<text class="cap" x="157.9" y="243.9" text-anchor="middle">(b)</text>
</g>
<g transform="translate(0,276.4)">
<clipPath id="ctc"><rect x="45.5" y="7" width="273.7" height="135.8"/></clipPath>
<clipPath id="crc"><rect x="45.5" y="142.8" width="273.7" height="45.8"/></clipPath>
<path d="M45.5,7 H319.2" fill="none" stroke="#b0b0b0" stroke-width="1.3"/>
<path d="M319.2,7 V188.6" fill="none" stroke="#9a9a9a" stroke-width="1.2"/>
<line x1="45.5" y1="184" x2="319.2" y2="184" stroke="#a0a0a0" stroke-width="1.1" stroke-dasharray="3.5,2.9" stroke-dashoffset="3.7"/>
<line x1="45.5" y1="165.7" x2="319.2" y2="165.7" stroke="#a0a0a0" stroke-width="1.1" stroke-dasharray="3.5,2.9" stroke-dashoffset="3.7"/>
<line x1="45.5" y1="147.4" x2="319.2" y2="147.4" stroke="#a0a0a0" stroke-width="1.1" stroke-dasharray="3.5,2.9" stroke-dashoffset="3.7"/>
<g clip-path="url(#ctc)">
<line x1="45.5" y1="115.58" x2="55.16" y2="115.58" stroke="#444" stroke-width="1"/>
<line x1="50.33" y1="115.04" x2="50.33" y2="116.13" stroke="#444" stroke-width="1"/>
<line x1="55.16" y1="96.63" x2="68.04" y2="96.63" stroke="#444" stroke-width="1"/>
<line x1="61.6" y1="96.09" x2="61.6" y2="97.17" stroke="#444" stroke-width="1"/>
<line x1="68.04" y1="87.15" x2="87.36" y2="87.15" stroke="#444" stroke-width="1"/>
<line x1="77.7" y1="86.61" x2="77.7" y2="87.69" stroke="#444" stroke-width="1"/>
<line x1="87.36" y1="80.11" x2="100.24" y2="80.11" stroke="#444" stroke-width="1"/>
<line x1="93.8" y1="79.43" x2="93.8" y2="80.79" stroke="#444" stroke-width="1"/>
<line x1="100.24" y1="80.52" x2="119.56" y2="80.52" stroke="#444" stroke-width="1"/>
<line x1="109.9" y1="79.7" x2="109.9" y2="81.33" stroke="#444" stroke-width="1"/>
<line x1="119.56" y1="76.45" x2="138.88" y2="76.45" stroke="#444" stroke-width="1"/>
<line x1="129.22" y1="75.37" x2="129.22" y2="77.54" stroke="#444" stroke-width="1"/>
<line x1="138.88" y1="64.95" x2="164.64" y2="64.95" stroke="#444" stroke-width="1"/>
<line x1="151.76" y1="63.59" x2="151.76" y2="66.3" stroke="#444" stroke-width="1"/>
<line x1="164.64" y1="60.75" x2="190.4" y2="60.75" stroke="#444" stroke-width="1"/>
<line x1="177.52" y1="59.12" x2="177.52" y2="62.37" stroke="#444" stroke-width="1"/>
<line x1="190.4" y1="60.61" x2="222.6" y2="60.61" stroke="#444" stroke-width="1"/>
<line x1="206.5" y1="57.9" x2="206.5" y2="63.32" stroke="#444" stroke-width="1"/>
<line x1="222.6" y1="59.66" x2="254.8" y2="59.66" stroke="#444" stroke-width="1"/>
<line x1="238.7" y1="40.17" x2="238.7" y2="79.16" stroke="#444" stroke-width="1"/>
<line x1="254.8" y1="57.36" x2="319.2" y2="57.36" stroke="#444" stroke-width="1"/>
<line x1="287" y1="34.34" x2="287" y2="80.38" stroke="#444" stroke-width="1"/>
<circle cx="50.33" cy="115.58" r="2.1" fill="#000"/>
<circle cx="61.6" cy="96.63" r="2.1" fill="#000"/>
<circle cx="77.7" cy="87.15" r="2.1" fill="#000"/>
<circle cx="93.8" cy="80.11" r="2.1" fill="#000"/>
<circle cx="109.9" cy="80.52" r="2.1" fill="#000"/>
<circle cx="129.22" cy="76.45" r="2.1" fill="#000"/>
<circle cx="151.76" cy="64.95" r="2.1" fill="#000"/>
<circle cx="177.52" cy="60.75" r="2.1" fill="#000"/>
<circle cx="206.5" cy="60.61" r="2.1" fill="#000"/>
<circle cx="238.7" cy="59.66" r="2.1" fill="#000"/>
<circle cx="287" cy="57.36" r="2.1" fill="#000"/>
<path d="M45.5,111.79 L55.16,111.79 L55.16,91.08 L68.04,91.08 L68.04,84.44 L87.36,84.44 L87.36,76.32 L100.24,76.32 L100.24,73.07 L119.56,73.07 L119.56,71.04 L138.88,71.04 L138.88,66.43 L164.64,66.43 L164.64,63.59 L190.4,63.59 L190.4,61.42 L222.6,61.42 L222.6,56.14 L254.8,56.14 L254.8,46.67 L319.2,46.67 L319.2,142.8" fill="none" stroke="#2b83c6" stroke-width="1.6"/>
<line x1="50.33" y1="110.98" x2="50.33" y2="112.61" stroke="#2b83c6" stroke-width="1.6"/>
<line x1="61.6" y1="90.26" x2="61.6" y2="91.89" stroke="#2b83c6" stroke-width="1.6"/>
<line x1="77.7" y1="83.63" x2="77.7" y2="85.26" stroke="#2b83c6" stroke-width="1.6"/>
<line x1="93.8" y1="74.69" x2="93.8" y2="77.94" stroke="#2b83c6" stroke-width="1.6"/>
<line x1="109.9" y1="71.04" x2="109.9" y2="75.1" stroke="#2b83c6" stroke-width="1.6"/>
<line x1="129.22" y1="69.01" x2="129.22" y2="73.07" stroke="#2b83c6" stroke-width="1.6"/>
<line x1="151.76" y1="61.02" x2="151.76" y2="71.85" stroke="#2b83c6" stroke-width="1.6"/>
<line x1="177.52" y1="56.82" x2="177.52" y2="70.36" stroke="#2b83c6" stroke-width="1.6"/>
<line x1="206.5" y1="51.27" x2="206.5" y2="71.58" stroke="#2b83c6" stroke-width="1.6"/>
<line x1="238.7" y1="46.67" x2="238.7" y2="65.62" stroke="#2b83c6" stroke-width="1.6"/>
<line x1="287" y1="35.83" x2="287" y2="57.5" stroke="#2b83c6" stroke-width="1.6"/>
<path d="M45.5,109.76 L55.16,109.76 L55.16,90.67 L68.04,90.67 L68.04,82.95 L87.36,82.95 L87.36,75.91 L100.24,75.91 L100.24,74.83 L119.56,74.83 L119.56,69.55 L138.88,69.55 L138.88,64.27 L164.64,64.27 L164.64,57.36 L190.4,57.36 L190.4,53.84 L222.6,53.84 L222.6,50.73 L254.8,50.73 L254.8,45.31 L319.2,45.31 L319.2,142.8" fill="none" stroke="#4fb34f" stroke-width="1.6" stroke-dasharray="3.7,2.9"/>
<line x1="50.33" y1="108.95" x2="50.33" y2="110.57" stroke="#4fb34f" stroke-width="1.6" stroke-dasharray="3.7,2.9"/>
<line x1="61.6" y1="89.86" x2="61.6" y2="91.48" stroke="#4fb34f" stroke-width="1.6" stroke-dasharray="3.7,2.9"/>
<line x1="77.7" y1="82.14" x2="77.7" y2="83.77" stroke="#4fb34f" stroke-width="1.6" stroke-dasharray="3.7,2.9"/>
<line x1="93.8" y1="74.56" x2="93.8" y2="77.27" stroke="#4fb34f" stroke-width="1.6" stroke-dasharray="3.7,2.9"/>
<line x1="109.9" y1="73.2" x2="109.9" y2="76.45" stroke="#4fb34f" stroke-width="1.6" stroke-dasharray="3.7,2.9"/>
<line x1="129.22" y1="67.92" x2="129.22" y2="71.17" stroke="#4fb34f" stroke-width="1.6" stroke-dasharray="3.7,2.9"/>
<line x1="151.76" y1="61.56" x2="151.76" y2="66.98" stroke="#4fb34f" stroke-width="1.6" stroke-dasharray="3.7,2.9"/>
<line x1="177.52" y1="53.3" x2="177.52" y2="61.42" stroke="#4fb34f" stroke-width="1.6" stroke-dasharray="3.7,2.9"/>
<line x1="206.5" y1="47.75" x2="206.5" y2="59.94" stroke="#4fb34f" stroke-width="1.6" stroke-dasharray="3.7,2.9"/>
<line x1="238.7" y1="39.9" x2="238.7" y2="61.56" stroke="#4fb34f" stroke-width="1.6" stroke-dasharray="3.7,2.9"/>
<line x1="287" y1="25" x2="287" y2="65.62" stroke="#4fb34f" stroke-width="1.6" stroke-dasharray="3.7,2.9"/>
</g>
<g clip-path="url(#crc)">
<path d="M45.5,152.34 L55.16,152.34 L55.16,154.9 L68.04,154.9 L68.04,161.12 L87.36,161.12 L87.36,160.03 L100.24,160.03 L100.24,155.63 L119.56,155.63 L119.56,157.56 L138.88,157.56 L138.88,168.63 L164.64,168.63 L164.64,169.18 L190.4,169.18 L190.4,167.99 L222.6,167.99 L222.6,162.04 L254.8,162.04 L254.8,154.08 L319.2,154.08 L319.2,190.6" fill="none" stroke="#2b83c6" stroke-width="1.6"/>
<line x1="50.33" y1="147.77" x2="50.33" y2="156.92" stroke="#2b83c6" stroke-width="1.6"/>
<line x1="61.6" y1="153.53" x2="61.6" y2="156.28" stroke="#2b83c6" stroke-width="1.6"/>
<line x1="77.7" y1="159.29" x2="77.7" y2="162.95" stroke="#2b83c6" stroke-width="1.6"/>
<line x1="93.8" y1="157.74" x2="93.8" y2="162.31" stroke="#2b83c6" stroke-width="1.6"/>
<line x1="109.9" y1="151.06" x2="109.9" y2="160.21" stroke="#2b83c6" stroke-width="1.6"/>
<line x1="129.22" y1="153.44" x2="129.22" y2="161.67" stroke="#2b83c6" stroke-width="1.6"/>
<line x1="151.76" y1="164.05" x2="151.76" y2="173.2" stroke="#2b83c6" stroke-width="1.6"/>
<line x1="177.52" y1="162.77" x2="177.52" y2="175.58" stroke="#2b83c6" stroke-width="1.6"/>
<line x1="206.5" y1="154.26" x2="206.5" y2="181.71" stroke="#2b83c6" stroke-width="1.6"/>
<line x1="238.7" y1="141.91" x2="238.7" y2="182.17" stroke="#2b83c6" stroke-width="1.6"/>
<line x1="287" y1="117.48" x2="287" y2="190.68" stroke="#2b83c6" stroke-width="1.6"/>
<path d="M45.5,146.76 L55.16,146.76 L55.16,155.27 L68.04,155.27 L68.04,158.38 L87.36,158.38 L87.36,161.12 L100.24,161.12 L100.24,158.01 L119.56,158.01 L119.56,157.01 L138.88,157.01 L138.88,164.51 L164.64,164.51 L164.64,161.58 L190.4,161.58 L190.4,159.29 L222.6,159.29 L222.6,155.09 L254.8,155.09 L254.8,152.52 L319.2,152.52 L319.2,190.6" fill="none" stroke="#4fb34f" stroke-width="1.6" stroke-dasharray="3.7,2.9"/>
<line x1="50.33" y1="144.01" x2="50.33" y2="149.5" stroke="#4fb34f" stroke-width="1.6" stroke-dasharray="3.7,2.9"/>
<line x1="61.6" y1="153.9" x2="61.6" y2="156.64" stroke="#4fb34f" stroke-width="1.6" stroke-dasharray="3.7,2.9"/>
<line x1="77.7" y1="156.55" x2="77.7" y2="160.21" stroke="#4fb34f" stroke-width="1.6" stroke-dasharray="3.7,2.9"/>
<line x1="93.8" y1="159.29" x2="93.8" y2="162.95" stroke="#4fb34f" stroke-width="1.6" stroke-dasharray="3.7,2.9"/>
<line x1="109.9" y1="155.27" x2="109.9" y2="160.76" stroke="#4fb34f" stroke-width="1.6" stroke-dasharray="3.7,2.9"/>
<line x1="129.22" y1="154.26" x2="129.22" y2="159.75" stroke="#4fb34f" stroke-width="1.6" stroke-dasharray="3.7,2.9"/>
<line x1="151.76" y1="160.85" x2="151.76" y2="168.17" stroke="#4fb34f" stroke-width="1.6" stroke-dasharray="3.7,2.9"/>
<line x1="177.52" y1="156.55" x2="177.52" y2="166.62" stroke="#4fb34f" stroke-width="1.6" stroke-dasharray="3.7,2.9"/>
<line x1="206.5" y1="145.57" x2="206.5" y2="173.02" stroke="#4fb34f" stroke-width="1.6" stroke-dasharray="3.7,2.9"/>
<line x1="238.7" y1="134.96" x2="238.7" y2="175.22" stroke="#4fb34f" stroke-width="1.6" stroke-dasharray="3.7,2.9"/>
<line x1="287" y1="115.92" x2="287" y2="189.12" stroke="#4fb34f" stroke-width="1.6" stroke-dasharray="3.7,2.9"/>
</g>
<path d="M45.5,7 V188.6 H319.2 M45.5,142.8 H319.2" fill="none" stroke="#858585" stroke-width="1.1"/>
<path d="M48.72,7 v3 M48.72,142.8 v-3.7 M48.72,142.8 v3 M48.72,188.6 v-3.2 M55.16,7 v3 M55.16,142.8 v-3.7 M55.16,142.8 v3 M55.16,188.6 v-3.2 M61.6,7 v6 M61.6,142.8 v-6.7 M61.6,142.8 v5.5 M61.6,188.6 v-6.6 M68.04,7 v3 M68.04,142.8 v-3.7 M68.04,142.8 v3 M68.04,188.6 v-3.2 M74.48,7 v3 M74.48,142.8 v-3.7 M74.48,142.8 v3 M74.48,188.6 v-3.2 M80.92,7 v3 M80.92,142.8 v-3.7 M80.92,142.8 v3 M80.92,188.6 v-3.2 M87.36,7 v3 M87.36,142.8 v-3.7 M87.36,142.8 v3 M87.36,188.6 v-3.2 M93.8,7 v6 M93.8,142.8 v-6.7 M93.8,142.8 v5.5 M93.8,188.6 v-6.6 M100.24,7 v3 M100.24,142.8 v-3.7 M100.24,142.8 v3 M100.24,188.6 v-3.2 M106.68,7 v3 M106.68,142.8 v-3.7 M106.68,142.8 v3 M106.68,188.6 v-3.2 M113.12,7 v3 M113.12,142.8 v-3.7 M113.12,142.8 v3 M113.12,188.6 v-3.2 M119.56,7 v3 M119.56,142.8 v-3.7 M119.56,142.8 v3 M119.56,188.6 v-3.2 M126,7 v6 M126,142.8 v-6.7 M126,142.8 v5.5 M126,188.6 v-6.6 M132.44,7 v3 M132.44,142.8 v-3.7 M132.44,142.8 v3 M132.44,188.6 v-3.2 M138.88,7 v3 M138.88,142.8 v-3.7 M138.88,142.8 v3 M138.88,188.6 v-3.2 M145.32,7 v3 M145.32,142.8 v-3.7 M145.32,142.8 v3 M145.32,188.6 v-3.2 M151.76,7 v3 M151.76,142.8 v-3.7 M151.76,142.8 v3 M151.76,188.6 v-3.2 M158.2,7 v6 M158.2,142.8 v-6.7 M158.2,142.8 v5.5 M158.2,188.6 v-6.6 M164.64,7 v3 M164.64,142.8 v-3.7 M164.64,142.8 v3 M164.64,188.6 v-3.2 M171.08,7 v3 M171.08,142.8 v-3.7 M171.08,142.8 v3 M171.08,188.6 v-3.2 M177.52,7 v3 M177.52,142.8 v-3.7 M177.52,142.8 v3 M177.52,188.6 v-3.2 M183.96,7 v3 M183.96,142.8 v-3.7 M183.96,142.8 v3 M183.96,188.6 v-3.2 M190.4,7 v6 M190.4,142.8 v-6.7 M190.4,142.8 v5.5 M190.4,188.6 v-6.6 M196.84,7 v3 M196.84,142.8 v-3.7 M196.84,142.8 v3 M196.84,188.6 v-3.2 M203.28,7 v3 M203.28,142.8 v-3.7 M203.28,142.8 v3 M203.28,188.6 v-3.2 M209.72,7 v3 M209.72,142.8 v-3.7 M209.72,142.8 v3 M209.72,188.6 v-3.2 M216.16,7 v3 M216.16,142.8 v-3.7 M216.16,142.8 v3 M216.16,188.6 v-3.2 M222.6,7 v6 M222.6,142.8 v-6.7 M222.6,142.8 v5.5 M222.6,188.6 v-6.6 M229.04,7 v3 M229.04,142.8 v-3.7 M229.04,142.8 v3 M229.04,188.6 v-3.2 M235.48,7 v3 M235.48,142.8 v-3.7 M235.48,142.8 v3 M235.48,188.6 v-3.2 M241.92,7 v3 M241.92,142.8 v-3.7 M241.92,142.8 v3 M241.92,188.6 v-3.2 M248.36,7 v3 M248.36,142.8 v-3.7 M248.36,142.8 v3 M248.36,188.6 v-3.2 M254.8,7 v6 M254.8,142.8 v-6.7 M254.8,142.8 v5.5 M254.8,188.6 v-6.6 M261.24,7 v3 M261.24,142.8 v-3.7 M261.24,142.8 v3 M261.24,188.6 v-3.2 M267.68,7 v3 M267.68,142.8 v-3.7 M267.68,142.8 v3 M267.68,188.6 v-3.2 M274.12,7 v3 M274.12,142.8 v-3.7 M274.12,142.8 v3 M274.12,188.6 v-3.2 M280.56,7 v3 M280.56,142.8 v-3.7 M280.56,142.8 v3 M280.56,188.6 v-3.2 M287,7 v6 M287,142.8 v-6.7 M287,142.8 v5.5 M287,188.6 v-6.6 M293.44,7 v3 M293.44,142.8 v-3.7 M293.44,142.8 v3 M293.44,188.6 v-3.2 M299.88,7 v3 M299.88,142.8 v-3.7 M299.88,142.8 v3 M299.88,188.6 v-3.2 M306.32,7 v3 M306.32,142.8 v-3.7 M306.32,142.8 v3 M306.32,188.6 v-3.2 M312.76,7 v3 M312.76,142.8 v-3.7 M312.76,142.8 v3 M312.76,188.6 v-3.2 M319.2,7 v6 M319.2,142.8 v-6.7 M319.2,142.8 v5.5 M319.2,188.6 v-6.6 M45.5,142.9 h7 M319.2,142.9 h-7 M45.5,136.11 h3.8 M319.2,136.11 h-3.8 M45.5,129.31 h3.8 M319.2,129.31 h-3.8 M45.5,122.52 h3.8 M319.2,122.52 h-3.8 M45.5,115.72 h7 M319.2,115.72 h-7 M45.5,108.93 h3.8 M319.2,108.93 h-3.8 M45.5,102.13 h3.8 M319.2,102.13 h-3.8 M45.5,95.34 h3.8 M319.2,95.34 h-3.8 M45.5,88.54 h7 M319.2,88.54 h-7 M45.5,81.75 h3.8 M319.2,81.75 h-3.8 M45.5,74.95 h3.8 M319.2,74.95 h-3.8 M45.5,68.16 h3.8 M319.2,68.16 h-3.8 M45.5,61.36 h7 M319.2,61.36 h-7 M45.5,54.56 h3.8 M319.2,54.56 h-3.8 M45.5,47.77 h3.8 M319.2,47.77 h-3.8 M45.5,40.97 h3.8 M319.2,40.97 h-3.8 M45.5,34.18 h7 M319.2,34.18 h-7 M45.5,27.38 h3.8 M319.2,27.38 h-3.8 M45.5,20.59 h3.8 M319.2,20.59 h-3.8 M45.5,13.79 h3.8 M319.2,13.79 h-3.8 M45.5,188.57 h4 M319.2,188.57 h-4 M45.5,184 h7.5 M319.2,184 h-7.5 M45.5,179.42 h4 M319.2,179.42 h-4 M45.5,174.85 h4 M319.2,174.85 h-4 M45.5,170.28 h4 M319.2,170.28 h-4 M45.5,165.7 h7.5 M319.2,165.7 h-7.5 M45.5,161.12 h4 M319.2,161.12 h-4 M45.5,156.55 h4 M319.2,156.55 h-4 M45.5,151.97 h4 M319.2,151.97 h-4 M45.5,147.4 h7.5 M319.2,147.4 h-7.5 M45.5,142.82 h4 M319.2,142.82 h-4" fill="none" stroke="#5a5a5a" stroke-width="1.1"/>
<text class="tl" x="42.8" y="145.9" text-anchor="end">0.0</text>
<text class="tl" x="42.8" y="118.72" text-anchor="end">0.2</text>
<text class="tl" x="42.8" y="91.54" text-anchor="end">0.4</text>
<text class="tl" x="42.8" y="64.36" text-anchor="end">0.6</text>
<text class="tl" x="42.8" y="37.18" text-anchor="end">0.8</text>
<text class="tl" x="42.8" y="10" text-anchor="end">1.0</text>
<text class="tl" x="42.8" y="186.9" text-anchor="end">0.8</text>
<text class="tl" x="42.8" y="168.6" text-anchor="end">1.0</text>
<text class="tl" x="42.8" y="150.3" text-anchor="end">1.2</text>
<text class="tl" x="61.6" y="197.9" text-anchor="middle">1</text>
<text class="tl" x="93.8" y="197.9" text-anchor="middle">2</text>
<text class="tl" x="126" y="197.9" text-anchor="middle">3</text>
<text class="tl" x="158.2" y="197.9" text-anchor="middle">4</text>
<text class="tl" x="190.4" y="197.9" text-anchor="middle">5</text>
<text class="tl" x="222.6" y="197.9" text-anchor="middle">6</text>
<text class="tl" x="254.8" y="197.9" text-anchor="middle">7</text>
<text class="tl" x="287" y="197.9" text-anchor="middle">8</text>
<text class="tl" x="319.2" y="197.9" text-anchor="middle">9</text>
<text class="ti" x="319.3" y="216.2" text-anchor="end"><tspan font-style="italic">p</tspan> [GeV]</text>
<text class="mc" transform="translate(11.4,185.9) rotate(-90)">MC/Data</text>
<path d="M1.9,47.4 L6.6,49.9 L11.3,47.4 M1.9,27.9 L6.6,25.4 L11.3,27.9 M11.6,38.8 L2.4,33.9" fill="none" stroke="#222" stroke-width="0.8"/>
<text class="ep" style="font-size:10px" transform="translate(8.6,46.3) rotate(-90)">E</text>
<text class="ep" font-style="italic" transform="translate(8.5,33.4) rotate(-90)">p</text>
<text class="ep" style="font-size:7.7px" transform="translate(11.0,24.0) rotate(-90)">COR</text>
<text class="at" x="55" y="21.8">ATLAS</text>
<text class="lg" y="33.5" style="font-size:9.9px"><tspan x="54.5">L = 0.1 nb</tspan><tspan x="98.6" y="30.95" font-size="8">−</tspan><tspan x="103.7" y="29.8" font-size="6.2">1</tspan><tspan x="107.1" y="33.5">, 8 TeV</tspan></text>
<text class="lg" y="44.6"><tspan x="54.33" font-family="Liberation Serif">|</tspan><tspan x="56.9" font-family="Liberation Serif" font-style="italic">η</tspan><tspan x="62.23" font-family="Liberation Serif">|</tspan><tspan x="77.0">0.6</tspan></text>
<path d="M74,39.3 L68.3,41.9 L74,44.5" fill="none" stroke="#222" stroke-width="0.8"/>
<text class="lg" y="96.9"><tspan x="227.8" font-family="Liberation Serif" font-size="12.2" stroke-width="0.12">π</tspan><tspan x="235.6" y="92.2" font-size="9.4">−</tspan></text>
<path d="M206.7,105.4 H216.6 M211.7,100.6 V110.2" stroke="#111" stroke-width="1.2"/>
<circle cx="211.7" cy="105.4" r="2" fill="#000"/>
<line x1="202" y1="116.6" x2="221.5" y2="116.6" stroke="#4fb34f" stroke-width="1.6" stroke-dasharray="3.7,2.9"/>
<line x1="201.5" y1="128.5" x2="222" y2="128.5" stroke="#2b83c6" stroke-width="1.6"/>
<text class="lg" x="229.6" y="108.7">Data 2012</text>
<text class="lg" x="229.6" y="120.3">FTFP BERT 2012</text>
<text class="lg" x="229.6" y="131.9">QGSP BERT 2012</text>
<text class="cap" x="157.9" y="240.7" text-anchor="middle">(c)</text>
</g>
<g transform="translate(362,276.4)">
<clipPath id="ctd"><rect x="45.5" y="7" width="273.7" height="135.8"/></clipPath>
<clipPath id="crd"><rect x="45.5" y="142.8" width="273.7" height="45.8"/></clipPath>
<path d="M45.5,7 H319.2" fill="none" stroke="#b0b0b0" stroke-width="1.3"/>
<path d="M319.2,7 V188.6" fill="none" stroke="#9a9a9a" stroke-width="1.2"/>
<line x1="45.5" y1="184" x2="319.2" y2="184" stroke="#a0a0a0" stroke-width="1.1" stroke-dasharray="3.5,2.9" stroke-dashoffset="3.7"/>
<line x1="45.5" y1="165.7" x2="319.2" y2="165.7" stroke="#a0a0a0" stroke-width="1.1" stroke-dasharray="3.5,2.9" stroke-dashoffset="3.7"/>
<line x1="45.5" y1="147.4" x2="319.2" y2="147.4" stroke="#a0a0a0" stroke-width="1.1" stroke-dasharray="3.5,2.9" stroke-dashoffset="3.7"/>
<g clip-path="url(#ctd)">
<line x1="45.5" y1="125.06" x2="55.16" y2="125.06" stroke="#444" stroke-width="1"/>
<line x1="50.33" y1="124.52" x2="50.33" y2="125.6" stroke="#444" stroke-width="1"/>
<line x1="55.16" y1="109.76" x2="68.04" y2="109.76" stroke="#444" stroke-width="1"/>
<line x1="61.6" y1="109.22" x2="61.6" y2="110.3" stroke="#444" stroke-width="1"/>
<line x1="68.04" y1="96.63" x2="87.36" y2="96.63" stroke="#444" stroke-width="1"/>
<line x1="77.7" y1="96.09" x2="77.7" y2="97.17" stroke="#444" stroke-width="1"/>
<line x1="87.36" y1="91.35" x2="100.24" y2="91.35" stroke="#444" stroke-width="1"/>
<line x1="93.8" y1="90.67" x2="93.8" y2="92.03" stroke="#444" stroke-width="1"/>
<line x1="100.24" y1="86.47" x2="119.56" y2="86.47" stroke="#444" stroke-width="1"/>
<line x1="109.9" y1="85.66" x2="109.9" y2="87.29" stroke="#444" stroke-width="1"/>
<line x1="119.56" y1="85.39" x2="138.88" y2="85.39" stroke="#444" stroke-width="1"/>
<line x1="129.22" y1="84.31" x2="129.22" y2="86.47" stroke="#444" stroke-width="1"/>
<line x1="138.88" y1="83.77" x2="164.64" y2="83.77" stroke="#444" stroke-width="1"/>
<line x1="151.76" y1="82.41" x2="151.76" y2="85.12" stroke="#444" stroke-width="1"/>
<line x1="164.64" y1="76.45" x2="190.4" y2="76.45" stroke="#444" stroke-width="1"/>
<line x1="177.52" y1="74.83" x2="177.52" y2="78.08" stroke="#444" stroke-width="1"/>
<line x1="190.4" y1="74.15" x2="222.6" y2="74.15" stroke="#444" stroke-width="1"/>
<line x1="206.5" y1="71.44" x2="206.5" y2="76.86" stroke="#444" stroke-width="1"/>
<line x1="222.6" y1="72.53" x2="254.8" y2="72.53" stroke="#444" stroke-width="1"/>
<line x1="238.7" y1="68.47" x2="238.7" y2="76.59" stroke="#444" stroke-width="1"/>
<line x1="254.8" y1="66.03" x2="319.2" y2="66.03" stroke="#444" stroke-width="1"/>
<line x1="287" y1="56.55" x2="287" y2="75.51" stroke="#444" stroke-width="1"/>
<circle cx="50.33" cy="125.06" r="2.1" fill="#000"/>
<circle cx="61.6" cy="109.76" r="2.1" fill="#000"/>
<circle cx="77.7" cy="96.63" r="2.1" fill="#000"/>
<circle cx="93.8" cy="91.35" r="2.1" fill="#000"/>
<circle cx="109.9" cy="86.47" r="2.1" fill="#000"/>
<circle cx="129.22" cy="85.39" r="2.1" fill="#000"/>
<circle cx="151.76" cy="83.77" r="2.1" fill="#000"/>
<circle cx="177.52" cy="76.45" r="2.1" fill="#000"/>
<circle cx="206.5" cy="74.15" r="2.1" fill="#000"/>
<circle cx="238.7" cy="72.53" r="2.1" fill="#000"/>
<circle cx="287" cy="66.03" r="2.1" fill="#000"/>
<path d="M45.5,125.2 L55.16,125.2 L55.16,104.89 L68.04,104.89 L68.04,91.75 L87.36,91.75 L87.36,88.64 L100.24,88.64 L100.24,84.98 L119.56,84.98 L119.56,85.39 L138.88,85.39 L138.88,78.62 L164.64,78.62 L164.64,78.21 L190.4,78.21 L190.4,76.86 L222.6,76.86 L222.6,78.35 L254.8,78.35 L254.8,76.18 L319.2,76.18 L319.2,142.8" fill="none" stroke="#2b83c6" stroke-width="1.6"/>
<line x1="50.33" y1="122.49" x2="50.33" y2="127.91" stroke="#2b83c6" stroke-width="1.6"/>
<line x1="61.6" y1="104.08" x2="61.6" y2="105.7" stroke="#2b83c6" stroke-width="1.6"/>
<line x1="77.7" y1="90.94" x2="77.7" y2="92.57" stroke="#2b83c6" stroke-width="1.6"/>
<line x1="93.8" y1="87.69" x2="93.8" y2="89.59" stroke="#2b83c6" stroke-width="1.6"/>
<line x1="109.9" y1="83.9" x2="109.9" y2="86.07" stroke="#2b83c6" stroke-width="1.6"/>
<line x1="129.22" y1="83.77" x2="129.22" y2="87.02" stroke="#2b83c6" stroke-width="1.6"/>
<line x1="151.76" y1="73.2" x2="151.76" y2="84.04" stroke="#2b83c6" stroke-width="1.6"/>
<line x1="177.52" y1="73.48" x2="177.52" y2="82.95" stroke="#2b83c6" stroke-width="1.6"/>
<line x1="206.5" y1="70.77" x2="206.5" y2="82.95" stroke="#2b83c6" stroke-width="1.6"/>
<line x1="238.7" y1="71.58" x2="238.7" y2="85.12" stroke="#2b83c6" stroke-width="1.6"/>
<line x1="287" y1="68.06" x2="287" y2="84.31" stroke="#2b83c6" stroke-width="1.6"/>
<path d="M45.5,129.4 L55.16,129.4 L55.16,104.35 L68.04,104.35 L68.04,93.92 L87.36,93.92 L87.36,87.56 L100.24,87.56 L100.24,85.39 L119.56,85.39 L119.56,82.14 L138.88,82.14 L138.88,73.34 L164.64,73.34 L164.64,75.64 L190.4,75.64 L190.4,65.49 L222.6,65.49 L222.6,70.9 L254.8,70.9 L254.8,78.35 L319.2,78.35 L319.2,142.8" fill="none" stroke="#4fb34f" stroke-width="1.6" stroke-dasharray="3.7,2.9"/>
<line x1="50.33" y1="126.69" x2="50.33" y2="132.1" stroke="#4fb34f" stroke-width="1.6" stroke-dasharray="3.7,2.9"/>
<line x1="61.6" y1="103.53" x2="61.6" y2="105.16" stroke="#4fb34f" stroke-width="1.6" stroke-dasharray="3.7,2.9"/>
<line x1="77.7" y1="93.11" x2="77.7" y2="94.73" stroke="#4fb34f" stroke-width="1.6" stroke-dasharray="3.7,2.9"/>
<line x1="93.8" y1="86.61" x2="93.8" y2="88.5" stroke="#4fb34f" stroke-width="1.6" stroke-dasharray="3.7,2.9"/>
<line x1="109.9" y1="84.31" x2="109.9" y2="86.47" stroke="#4fb34f" stroke-width="1.6" stroke-dasharray="3.7,2.9"/>
<line x1="129.22" y1="80.79" x2="129.22" y2="83.49" stroke="#4fb34f" stroke-width="1.6" stroke-dasharray="3.7,2.9"/>
<line x1="151.76" y1="71.31" x2="151.76" y2="75.37" stroke="#4fb34f" stroke-width="1.6" stroke-dasharray="3.7,2.9"/>
<line x1="177.52" y1="72.93" x2="177.52" y2="78.35" stroke="#4fb34f" stroke-width="1.6" stroke-dasharray="3.7,2.9"/>
<line x1="206.5" y1="61.42" x2="206.5" y2="69.55" stroke="#4fb34f" stroke-width="1.6" stroke-dasharray="3.7,2.9"/>
<line x1="238.7" y1="65.49" x2="238.7" y2="76.32" stroke="#4fb34f" stroke-width="1.6" stroke-dasharray="3.7,2.9"/>
<line x1="287" y1="71.58" x2="287" y2="85.12" stroke="#4fb34f" stroke-width="1.6" stroke-dasharray="3.7,2.9"/>
</g>
<g clip-path="url(#crd)">
<path d="M45.5,165.06 L55.16,165.06 L55.16,152.34 L68.04,152.34 L68.04,157.01 L87.36,157.01 L87.36,159.02 L100.24,159.02 L100.24,164.51 L119.56,164.51 L119.56,166.16 L138.88,166.16 L138.88,159.02 L164.64,159.02 L164.64,168.17 L190.4,168.17 L190.4,170.73 L222.6,170.73 L222.6,173.48 L254.8,173.48 L254.8,178.78 L319.2,178.78 L319.2,190.6" fill="none" stroke="#2b83c6" stroke-width="1.6"/>
<line x1="50.33" y1="144.93" x2="50.33" y2="185.19" stroke="#2b83c6" stroke-width="1.6"/>
<line x1="61.6" y1="147.77" x2="61.6" y2="156.92" stroke="#2b83c6" stroke-width="1.6"/>
<line x1="77.7" y1="153.35" x2="77.7" y2="160.67" stroke="#2b83c6" stroke-width="1.6"/>
<line x1="93.8" y1="155.36" x2="93.8" y2="162.68" stroke="#2b83c6" stroke-width="1.6"/>
<line x1="109.9" y1="161.31" x2="109.9" y2="167.71" stroke="#2b83c6" stroke-width="1.6"/>
<line x1="129.22" y1="160.67" x2="129.22" y2="171.65" stroke="#2b83c6" stroke-width="1.6"/>
<line x1="151.76" y1="152.62" x2="151.76" y2="165.43" stroke="#2b83c6" stroke-width="1.6"/>
<line x1="177.52" y1="159.02" x2="177.52" y2="177.32" stroke="#2b83c6" stroke-width="1.6"/>
<line x1="206.5" y1="161.58" x2="206.5" y2="179.88" stroke="#2b83c6" stroke-width="1.6"/>
<line x1="238.7" y1="162.95" x2="238.7" y2="184" stroke="#2b83c6" stroke-width="1.6"/>
<line x1="287" y1="165.06" x2="287" y2="192.51" stroke="#2b83c6" stroke-width="1.6"/>
<path d="M45.5,187.2 L55.16,187.2 L55.16,152.34 L68.04,152.34 L68.04,160.03 L87.36,160.03 L87.36,158.38 L100.24,158.38 L100.24,164.05 L119.56,164.05 L119.56,160.58 L138.88,160.58 L138.88,150.79 L164.64,150.79 L164.64,164.51 L190.4,164.51 L190.4,155.09 L222.6,155.09 L222.6,163.5 L254.8,163.5 L254.8,181.25 L319.2,181.25 L319.2,190.6" fill="none" stroke="#4fb34f" stroke-width="1.6" stroke-dasharray="3.7,2.9"/>
<line x1="50.33" y1="168.9" x2="50.33" y2="205.5" stroke="#4fb34f" stroke-width="1.6" stroke-dasharray="3.7,2.9"/>
<line x1="61.6" y1="147.77" x2="61.6" y2="156.92" stroke="#4fb34f" stroke-width="1.6" stroke-dasharray="3.7,2.9"/>
<line x1="77.7" y1="157.28" x2="77.7" y2="162.77" stroke="#4fb34f" stroke-width="1.6" stroke-dasharray="3.7,2.9"/>
<line x1="93.8" y1="155.63" x2="93.8" y2="161.12" stroke="#4fb34f" stroke-width="1.6" stroke-dasharray="3.7,2.9"/>
<line x1="109.9" y1="160.85" x2="109.9" y2="167.26" stroke="#4fb34f" stroke-width="1.6" stroke-dasharray="3.7,2.9"/>
<line x1="129.22" y1="156.92" x2="129.22" y2="164.24" stroke="#4fb34f" stroke-width="1.6" stroke-dasharray="3.7,2.9"/>
<line x1="151.76" y1="142.55" x2="151.76" y2="159.02" stroke="#4fb34f" stroke-width="1.6" stroke-dasharray="3.7,2.9"/>
<line x1="177.52" y1="158.11" x2="177.52" y2="170.92" stroke="#4fb34f" stroke-width="1.6" stroke-dasharray="3.7,2.9"/>
<line x1="206.5" y1="145.94" x2="206.5" y2="164.24" stroke="#4fb34f" stroke-width="1.6" stroke-dasharray="3.7,2.9"/>
<line x1="238.7" y1="151.61" x2="238.7" y2="175.4" stroke="#4fb34f" stroke-width="1.6" stroke-dasharray="3.7,2.9"/>
<line x1="287" y1="167.53" x2="287" y2="194.98" stroke="#4fb34f" stroke-width="1.6" stroke-dasharray="3.7,2.9"/>
</g>
<path d="M45.5,7 V188.6 H319.2 M45.5,142.8 H319.2" fill="none" stroke="#858585" stroke-width="1.1"/>
<path d="M48.72,7 v3 M48.72,142.8 v-3.7 M48.72,142.8 v3 M48.72,188.6 v-3.2 M55.16,7 v3 M55.16,142.8 v-3.7 M55.16,142.8 v3 M55.16,188.6 v-3.2 M61.6,7 v6 M61.6,142.8 v-6.7 M61.6,142.8 v5.5 M61.6,188.6 v-6.6 M68.04,7 v3 M68.04,142.8 v-3.7 M68.04,142.8 v3 M68.04,188.6 v-3.2 M74.48,7 v3 M74.48,142.8 v-3.7 M74.48,142.8 v3 M74.48,188.6 v-3.2 M80.92,7 v3 M80.92,142.8 v-3.7 M80.92,142.8 v3 M80.92,188.6 v-3.2 M87.36,7 v3 M87.36,142.8 v-3.7 M87.36,142.8 v3 M87.36,188.6 v-3.2 M93.8,7 v6 M93.8,142.8 v-6.7 M93.8,142.8 v5.5 M93.8,188.6 v-6.6 M100.24,7 v3 M100.24,142.8 v-3.7 M100.24,142.8 v3 M100.24,188.6 v-3.2 M106.68,7 v3 M106.68,142.8 v-3.7 M106.68,142.8 v3 M106.68,188.6 v-3.2 M113.12,7 v3 M113.12,142.8 v-3.7 M113.12,142.8 v3 M113.12,188.6 v-3.2 M119.56,7 v3 M119.56,142.8 v-3.7 M119.56,142.8 v3 M119.56,188.6 v-3.2 M126,7 v6 M126,142.8 v-6.7 M126,142.8 v5.5 M126,188.6 v-6.6 M132.44,7 v3 M132.44,142.8 v-3.7 M132.44,142.8 v3 M132.44,188.6 v-3.2 M138.88,7 v3 M138.88,142.8 v-3.7 M138.88,142.8 v3 M138.88,188.6 v-3.2 M145.32,7 v3 M145.32,142.8 v-3.7 M145.32,142.8 v3 M145.32,188.6 v-3.2 M151.76,7 v3 M151.76,142.8 v-3.7 M151.76,142.8 v3 M151.76,188.6 v-3.2 M158.2,7 v6 M158.2,142.8 v-6.7 M158.2,142.8 v5.5 M158.2,188.6 v-6.6 M164.64,7 v3 M164.64,142.8 v-3.7 M164.64,142.8 v3 M164.64,188.6 v-3.2 M171.08,7 v3 M171.08,142.8 v-3.7 M171.08,142.8 v3 M171.08,188.6 v-3.2 M177.52,7 v3 M177.52,142.8 v-3.7 M177.52,142.8 v3 M177.52,188.6 v-3.2 M183.96,7 v3 M183.96,142.8 v-3.7 M183.96,142.8 v3 M183.96,188.6 v-3.2 M190.4,7 v6 M190.4,142.8 v-6.7 M190.4,142.8 v5.5 M190.4,188.6 v-6.6 M196.84,7 v3 M196.84,142.8 v-3.7 M196.84,142.8 v3 M196.84,188.6 v-3.2 M203.28,7 v3 M203.28,142.8 v-3.7 M203.28,142.8 v3 M203.28,188.6 v-3.2 M209.72,7 v3 M209.72,142.8 v-3.7 M209.72,142.8 v3 M209.72,188.6 v-3.2 M216.16,7 v3 M216.16,142.8 v-3.7 M216.16,142.8 v3 M216.16,188.6 v-3.2 M222.6,7 v6 M222.6,142.8 v-6.7 M222.6,142.8 v5.5 M222.6,188.6 v-6.6 M229.04,7 v3 M229.04,142.8 v-3.7 M229.04,142.8 v3 M229.04,188.6 v-3.2 M235.48,7 v3 M235.48,142.8 v-3.7 M235.48,142.8 v3 M235.48,188.6 v-3.2 M241.92,7 v3 M241.92,142.8 v-3.7 M241.92,142.8 v3 M241.92,188.6 v-3.2 M248.36,7 v3 M248.36,142.8 v-3.7 M248.36,142.8 v3 M248.36,188.6 v-3.2 M254.8,7 v6 M254.8,142.8 v-6.7 M254.8,142.8 v5.5 M254.8,188.6 v-6.6 M261.24,7 v3 M261.24,142.8 v-3.7 M261.24,142.8 v3 M261.24,188.6 v-3.2 M267.68,7 v3 M267.68,142.8 v-3.7 M267.68,142.8 v3 M267.68,188.6 v-3.2 M274.12,7 v3 M274.12,142.8 v-3.7 M274.12,142.8 v3 M274.12,188.6 v-3.2 M280.56,7 v3 M280.56,142.8 v-3.7 M280.56,142.8 v3 M280.56,188.6 v-3.2 M287,7 v6 M287,142.8 v-6.7 M287,142.8 v5.5 M287,188.6 v-6.6 M293.44,7 v3 M293.44,142.8 v-3.7 M293.44,142.8 v3 M293.44,188.6 v-3.2 M299.88,7 v3 M299.88,142.8 v-3.7 M299.88,142.8 v3 M299.88,188.6 v-3.2 M306.32,7 v3 M306.32,142.8 v-3.7 M306.32,142.8 v3 M306.32,188.6 v-3.2 M312.76,7 v3 M312.76,142.8 v-3.7 M312.76,142.8 v3 M312.76,188.6 v-3.2 M319.2,7 v6 M319.2,142.8 v-6.7 M319.2,142.8 v5.5 M319.2,188.6 v-6.6 M45.5,142.9 h7 M319.2,142.9 h-7 M45.5,136.11 h3.8 M319.2,136.11 h-3.8 M45.5,129.31 h3.8 M319.2,129.31 h-3.8 M45.5,122.52 h3.8 M319.2,122.52 h-3.8 M45.5,115.72 h7 M319.2,115.72 h-7 M45.5,108.93 h3.8 M319.2,108.93 h-3.8 M45.5,102.13 h3.8 M319.2,102.13 h-3.8 M45.5,95.34 h3.8 M319.2,95.34 h-3.8 M45.5,88.54 h7 M319.2,88.54 h-7 M45.5,81.75 h3.8 M319.2,81.75 h-3.8 M45.5,74.95 h3.8 M319.2,74.95 h-3.8 M45.5,68.16 h3.8 M319.2,68.16 h-3.8 M45.5,61.36 h7 M319.2,61.36 h-7 M45.5,54.56 h3.8 M319.2,54.56 h-3.8 M45.5,47.77 h3.8 M319.2,47.77 h-3.8 M45.5,40.97 h3.8 M319.2,40.97 h-3.8 M45.5,34.18 h7 M319.2,34.18 h-7 M45.5,27.38 h3.8 M319.2,27.38 h-3.8 M45.5,20.59 h3.8 M319.2,20.59 h-3.8 M45.5,13.79 h3.8 M319.2,13.79 h-3.8 M45.5,188.57 h4 M319.2,188.57 h-4 M45.5,184 h7.5 M319.2,184 h-7.5 M45.5,179.42 h4 M319.2,179.42 h-4 M45.5,174.85 h4 M319.2,174.85 h-4 M45.5,170.28 h4 M319.2,170.28 h-4 M45.5,165.7 h7.5 M319.2,165.7 h-7.5 M45.5,161.12 h4 M319.2,161.12 h-4 M45.5,156.55 h4 M319.2,156.55 h-4 M45.5,151.97 h4 M319.2,151.97 h-4 M45.5,147.4 h7.5 M319.2,147.4 h-7.5 M45.5,142.82 h4 M319.2,142.82 h-4" fill="none" stroke="#5a5a5a" stroke-width="1.1"/>
<text class="tl" x="42.8" y="145.9" text-anchor="end">0.0</text>
<text class="tl" x="42.8" y="118.72" text-anchor="end">0.2</text>
<text class="tl" x="42.8" y="91.54" text-anchor="end">0.4</text>
<text class="tl" x="42.8" y="64.36" text-anchor="end">0.6</text>
<text class="tl" x="42.8" y="37.18" text-anchor="end">0.8</text>
<text class="tl" x="42.8" y="10" text-anchor="end">1.0</text>
<text class="tl" x="42.8" y="186.9" text-anchor="end">0.8</text>
<text class="tl" x="42.8" y="168.6" text-anchor="end">1.0</text>
<text class="tl" x="42.8" y="150.3" text-anchor="end">1.2</text>
<text class="tl" x="61.6" y="197.9" text-anchor="middle">1</text>
<text class="tl" x="93.8" y="197.9" text-anchor="middle">2</text>
<text class="tl" x="126" y="197.9" text-anchor="middle">3</text>
<text class="tl" x="158.2" y="197.9" text-anchor="middle">4</text>
<text class="tl" x="190.4" y="197.9" text-anchor="middle">5</text>
<text class="tl" x="222.6" y="197.9" text-anchor="middle">6</text>
<text class="tl" x="254.8" y="197.9" text-anchor="middle">7</text>
<text class="tl" x="287" y="197.9" text-anchor="middle">8</text>
<text class="tl" x="319.2" y="197.9" text-anchor="middle">9</text>
<text class="ti" x="319.3" y="216.2" text-anchor="end"><tspan font-style="italic">p</tspan> [GeV]</text>
<text class="mc" transform="translate(11.4,185.9) rotate(-90)">MC/Data</text>
<path d="M1.9,47.4 L6.6,49.9 L11.3,47.4 M1.9,27.9 L6.6,25.4 L11.3,27.9 M11.6,38.8 L2.4,33.9" fill="none" stroke="#222" stroke-width="0.8"/>
<text class="ep" style="font-size:10px" transform="translate(8.6,46.3) rotate(-90)">E</text>
<text class="ep" font-style="italic" transform="translate(8.5,33.4) rotate(-90)">p</text>
<text class="ep" style="font-size:7.7px" transform="translate(11.0,24.0) rotate(-90)">COR</text>
<text class="at" x="55" y="21.8">ATLAS</text>
<text class="lg" y="33.5" style="font-size:9.9px"><tspan x="54.5">L = 0.1 nb</tspan><tspan x="98.6" y="30.95" font-size="8">−</tspan><tspan x="103.7" y="29.8" font-size="6.2">1</tspan><tspan x="107.1" y="33.5">, 8 TeV</tspan></text>
<text class="lg" y="44.6"><tspan x="54.1">0.6</tspan><tspan x="80.23" font-family="Liberation Serif">|</tspan><tspan x="82.8" font-family="Liberation Serif" font-style="italic">η</tspan><tspan x="88.33" font-family="Liberation Serif">|</tspan><tspan x="104.46">1.1</tspan></text>
<path d="M77,39.3 L71.3,41.9 L77,44.5 M100,39.3 L94.3,41.9 L100,44.5" fill="none" stroke="#222" stroke-width="0.8"/>
<text class="lg" y="96.9"><tspan x="227.8" font-family="Liberation Serif" font-size="12.2" stroke-width="0.12">π</tspan><tspan x="235.6" y="92.2" font-size="9.4">−</tspan></text>
<path d="M206.7,105.4 H216.6 M211.7,100.6 V110.2" stroke="#111" stroke-width="1.2"/>
<circle cx="211.7" cy="105.4" r="2" fill="#000"/>
<line x1="202" y1="116.6" x2="221.5" y2="116.6" stroke="#4fb34f" stroke-width="1.6" stroke-dasharray="3.7,2.9"/>
<line x1="201.5" y1="128.5" x2="222" y2="128.5" stroke="#2b83c6" stroke-width="1.6"/>
<text class="lg" x="229.6" y="108.7">Data 2012</text>
<text class="lg" x="229.6" y="120.3">FTFP BERT 2012</text>
<text class="lg" x="229.6" y="131.9">QGSP BERT 2012</text>
<text class="cap" x="157.9" y="240.7" text-anchor="middle">(d)</text>
</g>
</svg></body></html>
